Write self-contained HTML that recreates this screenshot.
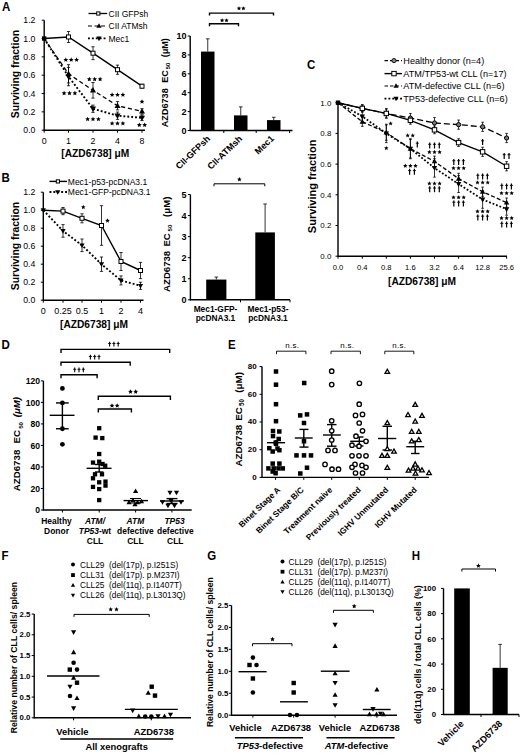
<!DOCTYPE html><html><head><meta charset="utf-8"><style>html,body{margin:0;padding:0;background:#fff;}svg{display:block;}text{font-family:"Liberation Sans",sans-serif;}</style></head><body>
<svg width="520" height="755" viewBox="0 0 520 755" font-family="Liberation Sans, sans-serif">
<rect width="520" height="755" fill="#fff"/>
<text transform="translate(2 10.8) scale(0.87 1)" font-size="13.2" font-weight="bold">A</text>
<line x1="44.2" y1="20.2" x2="44.2" y2="130.7" stroke="#000" stroke-width="1.4"/>
<line x1="43.7" y1="130.2" x2="145" y2="130.2" stroke="#000" stroke-width="1.4"/>
<line x1="41.7" y1="130.2" x2="44.2" y2="130.2" stroke="#000" stroke-width="1"/>
<text x="35.4" y="133.3" font-size="8.7" font-weight="normal" text-anchor="end" fill="#000">0.0</text>
<line x1="41.7" y1="111.87" x2="44.2" y2="111.87" stroke="#000" stroke-width="1"/>
<text x="35.4" y="114.97" font-size="8.7" font-weight="normal" text-anchor="end" fill="#000">0.2</text>
<line x1="41.7" y1="93.53" x2="44.2" y2="93.53" stroke="#000" stroke-width="1"/>
<text x="35.4" y="96.63" font-size="8.7" font-weight="normal" text-anchor="end" fill="#000">0.4</text>
<line x1="41.7" y1="75.2" x2="44.2" y2="75.2" stroke="#000" stroke-width="1"/>
<text x="35.4" y="78.3" font-size="8.7" font-weight="normal" text-anchor="end" fill="#000">0.6</text>
<line x1="41.7" y1="56.86" x2="44.2" y2="56.86" stroke="#000" stroke-width="1"/>
<text x="35.4" y="59.96" font-size="8.7" font-weight="normal" text-anchor="end" fill="#000">0.8</text>
<line x1="41.7" y1="38.53" x2="44.2" y2="38.53" stroke="#000" stroke-width="1"/>
<text x="35.4" y="41.63" font-size="8.7" font-weight="normal" text-anchor="end" fill="#000">1.0</text>
<line x1="41.7" y1="20.2" x2="44.2" y2="20.2" stroke="#000" stroke-width="1"/>
<text x="35.4" y="23.3" font-size="8.7" font-weight="normal" text-anchor="end" fill="#000">1.2</text>
<line x1="44.2" y1="130.2" x2="44.2" y2="132.7" stroke="#000" stroke-width="1"/>
<text x="44.2" y="143.9" font-size="8.8" font-weight="normal" text-anchor="middle" fill="#000">0</text>
<line x1="68.5" y1="130.2" x2="68.5" y2="132.7" stroke="#000" stroke-width="1"/>
<text x="68.5" y="143.9" font-size="8.8" font-weight="normal" text-anchor="middle" fill="#000">1</text>
<line x1="93" y1="130.2" x2="93" y2="132.7" stroke="#000" stroke-width="1"/>
<text x="93" y="143.9" font-size="8.8" font-weight="normal" text-anchor="middle" fill="#000">2</text>
<line x1="117.5" y1="130.2" x2="117.5" y2="132.7" stroke="#000" stroke-width="1"/>
<text x="117.5" y="143.9" font-size="8.8" font-weight="normal" text-anchor="middle" fill="#000">4</text>
<line x1="142" y1="130.2" x2="142" y2="132.7" stroke="#000" stroke-width="1"/>
<text x="142" y="143.9" font-size="8.8" font-weight="normal" text-anchor="middle" fill="#000">8</text>
<text x="95.3" y="157.3" font-size="10.2" font-weight="bold" text-anchor="middle" fill="#000">[AZD6738] &#956;M</text>
<text x="19" y="74" font-size="10.4" font-weight="bold" text-anchor="middle" transform="rotate(-90 19 74)" fill="#000">Surviving fraction</text>
<polyline points="44.2,38.53 68.5,36.97 93,53.2 117.5,69.7 142,86.2" fill="none" stroke="#000" stroke-width="1.4"/>
<polyline points="44.2,38.53 68.5,73.82 93,90.32 117.5,105.72 142,111.41" fill="none" stroke="#000" stroke-width="1.3" stroke-dasharray="4.2,2.8"/>
<polyline points="44.2,38.53 68.5,76.57 93,108.75 117.5,115.72 142,117.82" fill="none" stroke="#000" stroke-width="1.9" stroke-dasharray="1.9,2"/>
<line x1="68.5" y1="31.47" x2="68.5" y2="42.47" stroke="#000" stroke-width="0.8"/>
<line x1="66.9" y1="31.47" x2="70.1" y2="31.47" stroke="#000" stroke-width="0.8"/>
<line x1="66.9" y1="42.47" x2="70.1" y2="42.47" stroke="#000" stroke-width="0.8"/>
<line x1="93" y1="46.78" x2="93" y2="59.61" stroke="#000" stroke-width="0.8"/>
<line x1="91.4" y1="46.78" x2="94.6" y2="46.78" stroke="#000" stroke-width="0.8"/>
<line x1="91.4" y1="59.61" x2="94.6" y2="59.61" stroke="#000" stroke-width="0.8"/>
<line x1="117.5" y1="65.11" x2="117.5" y2="74.28" stroke="#000" stroke-width="0.8"/>
<line x1="115.9" y1="65.11" x2="119.1" y2="65.11" stroke="#000" stroke-width="0.8"/>
<line x1="115.9" y1="74.28" x2="119.1" y2="74.28" stroke="#000" stroke-width="0.8"/>
<line x1="142" y1="84.36" x2="142" y2="88.03" stroke="#000" stroke-width="0.8"/>
<line x1="140.4" y1="84.36" x2="143.6" y2="84.36" stroke="#000" stroke-width="0.8"/>
<line x1="140.4" y1="88.03" x2="143.6" y2="88.03" stroke="#000" stroke-width="0.8"/>
<line x1="68.5" y1="64.66" x2="68.5" y2="82.99" stroke="#000" stroke-width="0.8"/>
<line x1="66.9" y1="64.66" x2="70.1" y2="64.66" stroke="#000" stroke-width="0.8"/>
<line x1="66.9" y1="82.99" x2="70.1" y2="82.99" stroke="#000" stroke-width="0.8"/>
<line x1="93" y1="82.53" x2="93" y2="98.12" stroke="#000" stroke-width="0.8"/>
<line x1="91.4" y1="82.53" x2="94.6" y2="82.53" stroke="#000" stroke-width="0.8"/>
<line x1="91.4" y1="98.12" x2="94.6" y2="98.12" stroke="#000" stroke-width="0.8"/>
<line x1="117.5" y1="101.6" x2="117.5" y2="109.85" stroke="#000" stroke-width="0.8"/>
<line x1="115.9" y1="101.6" x2="119.1" y2="101.6" stroke="#000" stroke-width="0.8"/>
<line x1="115.9" y1="109.85" x2="119.1" y2="109.85" stroke="#000" stroke-width="0.8"/>
<line x1="142" y1="108.66" x2="142" y2="114.16" stroke="#000" stroke-width="0.8"/>
<line x1="140.4" y1="108.66" x2="143.6" y2="108.66" stroke="#000" stroke-width="0.8"/>
<line x1="140.4" y1="114.16" x2="143.6" y2="114.16" stroke="#000" stroke-width="0.8"/>
<line x1="68.5" y1="67.41" x2="68.5" y2="85.74" stroke="#000" stroke-width="0.8"/>
<line x1="66.9" y1="67.41" x2="70.1" y2="67.41" stroke="#000" stroke-width="0.8"/>
<line x1="66.9" y1="85.74" x2="70.1" y2="85.74" stroke="#000" stroke-width="0.8"/>
<line x1="93" y1="105.08" x2="93" y2="112.42" stroke="#000" stroke-width="0.8"/>
<line x1="91.4" y1="105.08" x2="94.6" y2="105.08" stroke="#000" stroke-width="0.8"/>
<line x1="91.4" y1="112.42" x2="94.6" y2="112.42" stroke="#000" stroke-width="0.8"/>
<line x1="117.5" y1="112.05" x2="117.5" y2="119.38" stroke="#000" stroke-width="0.8"/>
<line x1="115.9" y1="112.05" x2="119.1" y2="112.05" stroke="#000" stroke-width="0.8"/>
<line x1="115.9" y1="119.38" x2="119.1" y2="119.38" stroke="#000" stroke-width="0.8"/>
<line x1="142" y1="115.07" x2="142" y2="120.57" stroke="#000" stroke-width="0.8"/>
<line x1="140.4" y1="115.07" x2="143.6" y2="115.07" stroke="#000" stroke-width="0.8"/>
<line x1="140.4" y1="120.57" x2="143.6" y2="120.57" stroke="#000" stroke-width="0.8"/>
<rect x="66.5" y="34.97" width="4" height="4" fill="#fff" stroke="#000" stroke-width="1"/>
<rect x="91" y="51.2" width="4" height="4" fill="#fff" stroke="#000" stroke-width="1"/>
<rect x="115.5" y="67.7" width="4" height="4" fill="#fff" stroke="#000" stroke-width="1"/>
<rect x="140" y="84.2" width="4" height="4" fill="#fff" stroke="#000" stroke-width="1"/>
<polygon points="68.5,70.58 65.5,75.98 71.5,75.98" fill="#000"/>
<polygon points="93,87.08 90,92.48 96,92.48" fill="#000"/>
<polygon points="117.5,102.48 114.5,107.88 120.5,107.88" fill="#000"/>
<polygon points="142,108.17 139,113.57 145,113.57" fill="#000"/>
<polygon points="68.5,79.81 65.5,74.41 71.5,74.41" fill="#000"/>
<polygon points="93,111.99 90,106.59 96,106.59" fill="#000"/>
<polygon points="117.5,118.96 114.5,113.56 120.5,113.56" fill="#000"/>
<polygon points="142,121.06 139,115.66 145,115.66" fill="#000"/>
<rect x="42" y="36.33" width="4.4" height="4.4" fill="#000"/>
<polygon points="65.8,57.35 66.49,58.9 68.18,59.08 66.92,60.21 67.27,61.87 65.8,61.02 64.33,61.87 64.68,60.21 63.42,59.08 65.11,58.9" fill="#000"/>
<polygon points="71.2,57.35 71.89,58.9 73.58,59.08 72.32,60.21 72.67,61.87 71.2,61.02 69.73,61.87 70.08,60.21 68.82,59.08 70.51,58.9" fill="#000"/>
<polygon points="76.6,57.35 77.29,58.9 78.98,59.08 77.72,60.21 78.07,61.87 76.6,61.02 75.13,61.87 75.48,60.21 74.22,59.08 75.91,58.9" fill="#000"/>
<polygon points="64.1,90.75 64.79,92.3 66.48,92.48 65.22,93.61 65.57,95.27 64.1,94.42 62.63,95.27 62.98,93.61 61.72,92.48 63.41,92.3" fill="#000"/>
<polygon points="69.5,90.75 70.19,92.3 71.88,92.48 70.62,93.61 70.97,95.27 69.5,94.42 68.03,95.27 68.38,93.61 67.12,92.48 68.81,92.3" fill="#000"/>
<polygon points="74.9,90.75 75.59,92.3 77.28,92.48 76.02,93.61 76.37,95.27 74.9,94.42 73.43,95.27 73.78,93.61 72.52,92.48 74.21,92.3" fill="#000"/>
<polygon points="89.3,76.75 89.99,78.3 91.68,78.48 90.42,79.61 90.77,81.27 89.3,80.42 87.83,81.27 88.18,79.61 86.92,78.48 88.61,78.3" fill="#000"/>
<polygon points="94.7,76.75 95.39,78.3 97.08,78.48 95.82,79.61 96.17,81.27 94.7,80.42 93.23,81.27 93.58,79.61 92.32,78.48 94.01,78.3" fill="#000"/>
<polygon points="100.1,76.75 100.79,78.3 102.48,78.48 101.22,79.61 101.57,81.27 100.1,80.42 98.63,81.27 98.98,79.61 97.72,78.48 99.41,78.3" fill="#000"/>
<polygon points="87.6,116.65 88.29,118.2 89.98,118.38 88.72,119.51 89.07,121.17 87.6,120.33 86.13,121.17 86.48,119.51 85.22,118.38 86.91,118.2" fill="#000"/>
<polygon points="93,116.65 93.69,118.2 95.38,118.38 94.12,119.51 94.47,121.17 93,120.33 91.53,121.17 91.88,119.51 90.62,118.38 92.31,118.2" fill="#000"/>
<polygon points="98.4,116.65 99.09,118.2 100.78,118.38 99.52,119.51 99.87,121.17 98.4,120.33 96.93,121.17 97.28,119.51 96.02,118.38 97.71,118.2" fill="#000"/>
<polygon points="112.1,92.35 112.79,93.9 114.48,94.08 113.22,95.21 113.57,96.87 112.1,96.02 110.63,96.87 110.98,95.21 109.72,94.08 111.41,93.9" fill="#000"/>
<polygon points="117.5,92.35 118.19,93.9 119.88,94.08 118.62,95.21 118.97,96.87 117.5,96.02 116.03,96.87 116.38,95.21 115.12,94.08 116.81,93.9" fill="#000"/>
<polygon points="122.9,92.35 123.59,93.9 125.28,94.08 124.02,95.21 124.37,96.87 122.9,96.02 121.43,96.87 121.78,95.21 120.52,94.08 122.21,93.9" fill="#000"/>
<polygon points="112.1,120.95 112.79,122.5 114.48,122.68 113.22,123.81 113.57,125.47 112.1,124.62 110.63,125.47 110.98,123.81 109.72,122.68 111.41,122.5" fill="#000"/>
<polygon points="117.5,120.95 118.19,122.5 119.88,122.68 118.62,123.81 118.97,125.47 117.5,124.62 116.03,125.47 116.38,123.81 115.12,122.68 116.81,122.5" fill="#000"/>
<polygon points="122.9,120.95 123.59,122.5 125.28,122.68 124.02,123.81 124.37,125.47 122.9,124.62 121.43,125.47 121.78,123.81 120.52,122.68 122.21,122.5" fill="#000"/>
<polygon points="142,99.15 142.69,100.7 144.38,100.88 143.12,102.01 143.47,103.67 142,102.83 140.53,103.67 140.88,102.01 139.62,100.88 141.31,100.7" fill="#000"/>
<polygon points="139.3,122.55 139.99,124.1 141.68,124.28 140.42,125.41 140.77,127.07 139.3,126.22 137.83,127.07 138.18,125.41 136.92,124.28 138.61,124.1" fill="#000"/>
<polygon points="144.7,122.55 145.39,124.1 147.08,124.28 145.82,125.41 146.17,127.07 144.7,126.22 143.23,127.07 143.58,125.41 142.32,124.28 144.01,124.1" fill="#000"/>
<line x1="88.5" y1="13.5" x2="107.2" y2="13.5" stroke="#000" stroke-width="1.3"/>
<rect x="96.7" y="11.9" width="3.2" height="3.2" fill="#fff" stroke="#000" stroke-width="1"/>
<line x1="88" y1="26" x2="107" y2="26" stroke="#000" stroke-width="1.2" stroke-dasharray="4,2.5"/>
<polygon points="99,23.19 96.4,27.87 101.6,27.87" fill="#000"/>
<line x1="88" y1="38.4" x2="107" y2="38.4" stroke="#000" stroke-width="1.9" stroke-dasharray="1.9,2"/>
<polygon points="99,41.21 96.4,36.53 101.6,36.53" fill="#000"/>
<text x="108.5" y="16.6" font-size="8.5" font-weight="normal" text-anchor="start" fill="#000">CII GFPsh</text>
<text x="108.5" y="29.1" font-size="8.5" font-weight="normal" text-anchor="start" fill="#000">CII ATMsh</text>
<text x="108.5" y="41.5" font-size="8.5" font-weight="normal" text-anchor="start" fill="#000">Mec1</text>
<line x1="190.2" y1="36" x2="190.2" y2="131" stroke="#000" stroke-width="1.4"/>
<line x1="189.7" y1="130.5" x2="292.5" y2="130.5" stroke="#000" stroke-width="1.4"/>
<line x1="187.7" y1="130.5" x2="190.2" y2="130.5" stroke="#000" stroke-width="1"/>
<text x="186.5" y="133.7" font-size="9" font-weight="bold" text-anchor="end" fill="#000">0</text>
<line x1="187.7" y1="111.6" x2="190.2" y2="111.6" stroke="#000" stroke-width="1"/>
<text x="186.5" y="114.8" font-size="9" font-weight="bold" text-anchor="end" fill="#000">2</text>
<line x1="187.7" y1="92.7" x2="190.2" y2="92.7" stroke="#000" stroke-width="1"/>
<text x="186.5" y="95.9" font-size="9" font-weight="bold" text-anchor="end" fill="#000">4</text>
<line x1="187.7" y1="73.8" x2="190.2" y2="73.8" stroke="#000" stroke-width="1"/>
<text x="186.5" y="77" font-size="9" font-weight="bold" text-anchor="end" fill="#000">6</text>
<line x1="187.7" y1="54.9" x2="190.2" y2="54.9" stroke="#000" stroke-width="1"/>
<text x="186.5" y="58.1" font-size="9" font-weight="bold" text-anchor="end" fill="#000">8</text>
<line x1="187.7" y1="36" x2="190.2" y2="36" stroke="#000" stroke-width="1"/>
<text x="186.5" y="39.2" font-size="9" font-weight="bold" text-anchor="end" fill="#000">10</text>
<line x1="223.8" y1="130.5" x2="223.8" y2="133" stroke="#000" stroke-width="1"/>
<line x1="256.2" y1="130.5" x2="256.2" y2="133" stroke="#000" stroke-width="1"/>
<line x1="289.6" y1="130.5" x2="289.6" y2="133" stroke="#000" stroke-width="1"/>
<line x1="207.75" y1="51.59" x2="207.75" y2="38.84" stroke="#000" stroke-width="0.8"/>
<line x1="205.95" y1="38.84" x2="209.55" y2="38.84" stroke="#000" stroke-width="0.8"/>
<rect x="201" y="51.59" width="13.5" height="78.91" fill="#000"/>
<line x1="240.75" y1="115.38" x2="240.75" y2="106.88" stroke="#000" stroke-width="0.8"/>
<line x1="238.95" y1="106.88" x2="242.55" y2="106.88" stroke="#000" stroke-width="0.8"/>
<rect x="234" y="115.38" width="13.5" height="15.12" fill="#000"/>
<line x1="273.75" y1="120.11" x2="273.75" y2="117.27" stroke="#000" stroke-width="0.8"/>
<line x1="271.95" y1="117.27" x2="275.55" y2="117.27" stroke="#000" stroke-width="0.8"/>
<rect x="267" y="120.11" width="13.5" height="10.39" fill="#000"/>
<polyline points="209.5,15.5 209.5,13.1 273.5,13.1 273.5,15.5" fill="none" stroke="#000" stroke-width="1.4"/>
<polygon points="239,6.13 239.64,7.56 241.19,7.72 240.03,8.76 240.35,10.29 239,9.51 237.65,10.29 237.97,8.76 236.81,7.72 238.36,7.56" fill="#000"/>
<polygon points="243.4,6.13 244.04,7.56 245.59,7.72 244.43,8.76 244.75,10.29 243.4,9.51 242.05,10.29 242.37,8.76 241.21,7.72 242.76,7.56" fill="#000"/>
<polyline points="209.5,26.2 209.5,23.8 238.5,23.8 238.5,26.2" fill="none" stroke="#000" stroke-width="1.4"/>
<polygon points="222.1,18.13 222.74,19.56 224.29,19.72 223.13,20.76 223.45,22.29 222.1,21.51 220.75,22.29 221.07,20.76 219.91,19.72 221.46,19.56" fill="#000"/>
<polygon points="226.5,18.13 227.14,19.56 228.69,19.72 227.53,20.76 227.85,22.29 226.5,21.51 225.15,22.29 225.47,20.76 224.31,19.72 225.86,19.56" fill="#000"/>
<text transform="translate(168.2 107.75) rotate(-90)" font-size="9.1" font-weight="bold" text-anchor="middle">AZD6738</text>
<text transform="translate(168.2 76.45) rotate(-90)" font-size="9.1" font-weight="bold" text-anchor="middle">EC</text>
<text transform="translate(170.38 66.1) rotate(-90)" font-size="5.82" font-weight="bold" text-anchor="middle">50</text>
<text transform="translate(168.2 47.75) rotate(-90)" font-size="9.1" font-weight="bold" text-anchor="middle">(&#956;M)</text>
<text x="210.8" y="139.3" font-size="9.1" font-weight="bold" text-anchor="end" transform="rotate(-44 210.8 139.3)" fill="#000">CII-GFPsh</text>
<text x="242.8" y="139.3" font-size="9.1" font-weight="bold" text-anchor="end" transform="rotate(-44 242.8 139.3)" fill="#000">CII-ATMsh</text>
<text x="274.6" y="139.3" font-size="9.1" font-weight="bold" text-anchor="end" transform="rotate(-44 274.6 139.3)" fill="#000">Mec1</text>
<text transform="translate(1.6 182.4) scale(0.87 1)" font-size="13.2" font-weight="bold">B</text>
<line x1="43.3" y1="192.2" x2="43.3" y2="300.7" stroke="#000" stroke-width="1.4"/>
<line x1="42.8" y1="300.2" x2="143.5" y2="300.2" stroke="#000" stroke-width="1.4"/>
<line x1="40.8" y1="300.2" x2="43.3" y2="300.2" stroke="#000" stroke-width="1"/>
<text x="35.3" y="303.3" font-size="8.7" font-weight="normal" text-anchor="end" fill="#000">0.0</text>
<line x1="40.8" y1="282.2" x2="43.3" y2="282.2" stroke="#000" stroke-width="1"/>
<text x="35.3" y="285.3" font-size="8.7" font-weight="normal" text-anchor="end" fill="#000">0.2</text>
<line x1="40.8" y1="264.2" x2="43.3" y2="264.2" stroke="#000" stroke-width="1"/>
<text x="35.3" y="267.3" font-size="8.7" font-weight="normal" text-anchor="end" fill="#000">0.4</text>
<line x1="40.8" y1="246.2" x2="43.3" y2="246.2" stroke="#000" stroke-width="1"/>
<text x="35.3" y="249.3" font-size="8.7" font-weight="normal" text-anchor="end" fill="#000">0.6</text>
<line x1="40.8" y1="228.2" x2="43.3" y2="228.2" stroke="#000" stroke-width="1"/>
<text x="35.3" y="231.3" font-size="8.7" font-weight="normal" text-anchor="end" fill="#000">0.8</text>
<line x1="40.8" y1="210.2" x2="43.3" y2="210.2" stroke="#000" stroke-width="1"/>
<text x="35.3" y="213.3" font-size="8.7" font-weight="normal" text-anchor="end" fill="#000">1.0</text>
<line x1="40.8" y1="192.2" x2="43.3" y2="192.2" stroke="#000" stroke-width="1"/>
<text x="35.3" y="195.3" font-size="8.7" font-weight="normal" text-anchor="end" fill="#000">1.2</text>
<line x1="43.3" y1="300.2" x2="43.3" y2="302.7" stroke="#000" stroke-width="1"/>
<text x="43.3" y="313.5" font-size="9" font-weight="normal" text-anchor="middle" fill="#000">0</text>
<line x1="63" y1="300.2" x2="63" y2="302.7" stroke="#000" stroke-width="1"/>
<text x="63" y="313.5" font-size="9" font-weight="normal" text-anchor="middle" fill="#000">0.25</text>
<line x1="82" y1="300.2" x2="82" y2="302.7" stroke="#000" stroke-width="1"/>
<text x="82" y="313.5" font-size="9" font-weight="normal" text-anchor="middle" fill="#000">0.5</text>
<line x1="101.5" y1="300.2" x2="101.5" y2="302.7" stroke="#000" stroke-width="1"/>
<text x="101.5" y="313.5" font-size="9" font-weight="normal" text-anchor="middle" fill="#000">1</text>
<line x1="121" y1="300.2" x2="121" y2="302.7" stroke="#000" stroke-width="1"/>
<text x="121" y="313.5" font-size="9" font-weight="normal" text-anchor="middle" fill="#000">2</text>
<line x1="140.5" y1="300.2" x2="140.5" y2="302.7" stroke="#000" stroke-width="1"/>
<text x="140.5" y="313.5" font-size="9" font-weight="normal" text-anchor="middle" fill="#000">4</text>
<text x="94" y="328" font-size="10.2" font-weight="bold" text-anchor="middle" fill="#000">[AZD6738] &#956;M</text>
<text x="19" y="246" font-size="10.4" font-weight="bold" text-anchor="middle" transform="rotate(-90 19 246)" fill="#000">Surviving fraction</text>
<polyline points="43.3,210.2 63,211.1 82,218.3 101.5,225.5 121,261.5 140.5,270.5" fill="none" stroke="#000" stroke-width="1.4"/>
<polyline points="43.3,210.2 63,230.9 82,245.3 101.5,264.2 121,280.4 140.5,285.8" fill="none" stroke="#000" stroke-width="1.9" stroke-dasharray="1.9,2"/>
<line x1="63" y1="207.5" x2="63" y2="214.7" stroke="#000" stroke-width="0.8"/>
<line x1="61.4" y1="207.5" x2="64.6" y2="207.5" stroke="#000" stroke-width="0.8"/>
<line x1="61.4" y1="214.7" x2="64.6" y2="214.7" stroke="#000" stroke-width="0.8"/>
<line x1="82" y1="213.8" x2="82" y2="222.8" stroke="#000" stroke-width="0.8"/>
<line x1="80.4" y1="213.8" x2="83.6" y2="213.8" stroke="#000" stroke-width="0.8"/>
<line x1="80.4" y1="222.8" x2="83.6" y2="222.8" stroke="#000" stroke-width="0.8"/>
<line x1="101.5" y1="205.7" x2="101.5" y2="245.3" stroke="#000" stroke-width="0.8"/>
<line x1="99.9" y1="205.7" x2="103.1" y2="205.7" stroke="#000" stroke-width="0.8"/>
<line x1="99.9" y1="245.3" x2="103.1" y2="245.3" stroke="#000" stroke-width="0.8"/>
<line x1="121" y1="252.5" x2="121" y2="270.5" stroke="#000" stroke-width="0.8"/>
<line x1="119.4" y1="252.5" x2="122.6" y2="252.5" stroke="#000" stroke-width="0.8"/>
<line x1="119.4" y1="270.5" x2="122.6" y2="270.5" stroke="#000" stroke-width="0.8"/>
<line x1="140.5" y1="262.4" x2="140.5" y2="278.6" stroke="#000" stroke-width="0.8"/>
<line x1="138.9" y1="262.4" x2="142.1" y2="262.4" stroke="#000" stroke-width="0.8"/>
<line x1="138.9" y1="278.6" x2="142.1" y2="278.6" stroke="#000" stroke-width="0.8"/>
<line x1="63" y1="224.6" x2="63" y2="237.2" stroke="#000" stroke-width="0.8"/>
<line x1="61.4" y1="224.6" x2="64.6" y2="224.6" stroke="#000" stroke-width="0.8"/>
<line x1="61.4" y1="237.2" x2="64.6" y2="237.2" stroke="#000" stroke-width="0.8"/>
<line x1="82" y1="239" x2="82" y2="251.6" stroke="#000" stroke-width="0.8"/>
<line x1="80.4" y1="239" x2="83.6" y2="239" stroke="#000" stroke-width="0.8"/>
<line x1="80.4" y1="251.6" x2="83.6" y2="251.6" stroke="#000" stroke-width="0.8"/>
<line x1="101.5" y1="257" x2="101.5" y2="271.4" stroke="#000" stroke-width="0.8"/>
<line x1="99.9" y1="257" x2="103.1" y2="257" stroke="#000" stroke-width="0.8"/>
<line x1="99.9" y1="271.4" x2="103.1" y2="271.4" stroke="#000" stroke-width="0.8"/>
<line x1="121" y1="275.9" x2="121" y2="284.9" stroke="#000" stroke-width="0.8"/>
<line x1="119.4" y1="275.9" x2="122.6" y2="275.9" stroke="#000" stroke-width="0.8"/>
<line x1="119.4" y1="284.9" x2="122.6" y2="284.9" stroke="#000" stroke-width="0.8"/>
<line x1="140.5" y1="282.2" x2="140.5" y2="289.4" stroke="#000" stroke-width="0.8"/>
<line x1="138.9" y1="282.2" x2="142.1" y2="282.2" stroke="#000" stroke-width="0.8"/>
<line x1="138.9" y1="289.4" x2="142.1" y2="289.4" stroke="#000" stroke-width="0.8"/>
<rect x="61" y="209.1" width="4" height="4" fill="#fff" stroke="#000" stroke-width="1"/>
<rect x="80" y="216.3" width="4" height="4" fill="#fff" stroke="#000" stroke-width="1"/>
<rect x="99.5" y="223.5" width="4" height="4" fill="#fff" stroke="#000" stroke-width="1"/>
<rect x="119" y="259.5" width="4" height="4" fill="#fff" stroke="#000" stroke-width="1"/>
<rect x="138.5" y="268.5" width="4" height="4" fill="#fff" stroke="#000" stroke-width="1"/>
<polygon points="63,233.71 60.4,229.03 65.6,229.03" fill="#000"/>
<polygon points="82,248.11 79.4,243.43 84.6,243.43" fill="#000"/>
<polygon points="101.5,267.01 98.9,262.33 104.1,262.33" fill="#000"/>
<polygon points="121,283.21 118.4,278.53 123.6,278.53" fill="#000"/>
<polygon points="140.5,288.61 137.9,283.93 143.1,283.93" fill="#000"/>
<polygon points="43.3,213.01 40.7,208.33 45.9,208.33" fill="#000"/>
<polygon points="83.3,204.84 83.96,206.33 85.58,206.5 84.37,207.59 84.71,209.18 83.3,208.37 81.89,209.18 82.23,207.59 81.02,206.5 82.64,206.33" fill="#000"/>
<polygon points="107.5,218.34 108.16,219.83 109.78,220 108.57,221.09 108.91,222.68 107.5,221.87 106.09,222.68 106.43,221.09 105.22,220 106.84,219.83" fill="#000"/>
<line x1="49.5" y1="181.4" x2="67" y2="181.4" stroke="#000" stroke-width="1.4"/>
<rect x="56.3" y="179.8" width="3.2" height="3.2" fill="#fff" stroke="#000" stroke-width="1"/>
<line x1="49.5" y1="192" x2="67" y2="192" stroke="#000" stroke-width="1.9" stroke-dasharray="1.9,2"/>
<polygon points="57.7,194.81 55.1,190.13 60.3,190.13" fill="#000"/>
<text x="67.8" y="184.5" font-size="8.5" font-weight="normal" text-anchor="start" fill="#000">Mec1-p53-pcDNA3.1</text>
<text x="67.8" y="195.1" font-size="8.5" font-weight="normal" text-anchor="start" fill="#000">Mec1-GFP-pcDNA3.1</text>
<line x1="190.4" y1="194.5" x2="190.4" y2="300.3" stroke="#000" stroke-width="1.4"/>
<line x1="189.9" y1="299.8" x2="290" y2="299.8" stroke="#000" stroke-width="1.4"/>
<line x1="187.9" y1="299.8" x2="190.4" y2="299.8" stroke="#000" stroke-width="1"/>
<text x="186.5" y="303" font-size="9" font-weight="bold" text-anchor="end" fill="#000">0</text>
<line x1="187.9" y1="278.74" x2="190.4" y2="278.74" stroke="#000" stroke-width="1"/>
<text x="186.5" y="281.94" font-size="9" font-weight="bold" text-anchor="end" fill="#000">1</text>
<line x1="187.9" y1="257.68" x2="190.4" y2="257.68" stroke="#000" stroke-width="1"/>
<text x="186.5" y="260.88" font-size="9" font-weight="bold" text-anchor="end" fill="#000">2</text>
<line x1="187.9" y1="236.62" x2="190.4" y2="236.62" stroke="#000" stroke-width="1"/>
<text x="186.5" y="239.82" font-size="9" font-weight="bold" text-anchor="end" fill="#000">3</text>
<line x1="187.9" y1="215.56" x2="190.4" y2="215.56" stroke="#000" stroke-width="1"/>
<text x="186.5" y="218.76" font-size="9" font-weight="bold" text-anchor="end" fill="#000">4</text>
<line x1="187.9" y1="194.5" x2="190.4" y2="194.5" stroke="#000" stroke-width="1"/>
<text x="186.5" y="197.7" font-size="9" font-weight="bold" text-anchor="end" fill="#000">5</text>
<line x1="240.5" y1="299.8" x2="240.5" y2="302.3" stroke="#000" stroke-width="1"/>
<line x1="290" y1="299.8" x2="290" y2="302.3" stroke="#000" stroke-width="1"/>
<line x1="216.3" y1="279.58" x2="216.3" y2="277.06" stroke="#000" stroke-width="0.8"/>
<line x1="214.5" y1="277.06" x2="218.1" y2="277.06" stroke="#000" stroke-width="0.8"/>
<rect x="206.2" y="279.58" width="20.2" height="20.22" fill="#000"/>
<line x1="265.1" y1="232.41" x2="265.1" y2="203.98" stroke="#000" stroke-width="0.8"/>
<line x1="263.3" y1="203.98" x2="266.9" y2="203.98" stroke="#000" stroke-width="0.8"/>
<rect x="255.3" y="232.41" width="19.6" height="67.39" fill="#000"/>
<polyline points="214,186.3 214,183.8 264.8,183.8 264.8,186.3" fill="none" stroke="#000" stroke-width="1"/>
<polygon points="239.4,177.04 240.06,178.53 241.68,178.7 240.47,179.79 240.81,181.38 239.4,180.57 237.99,181.38 238.33,179.79 237.12,178.7 238.74,178.53" fill="#000"/>
<text transform="translate(169.6 271.35) rotate(-90)" font-size="9.6" font-weight="bold" text-anchor="middle">AZD6738</text>
<text transform="translate(169.6 239.9) rotate(-90)" font-size="9.6" font-weight="bold" text-anchor="middle">EC</text>
<text transform="translate(171.9 228) rotate(-90)" font-size="6.14" font-weight="bold" text-anchor="middle">50</text>
<text transform="translate(169.6 206.75) rotate(-90)" font-size="9.6" font-weight="bold" text-anchor="middle">(&#956;M)</text>
<text x="215.5" y="311.5" font-size="8.4" font-weight="bold" text-anchor="middle" fill="#000">Mec1-GFP-</text>
<text x="215.5" y="321.3" font-size="8.4" font-weight="bold" text-anchor="middle" fill="#000">pcDNA3.1</text>
<text x="268" y="311.5" font-size="8.4" font-weight="bold" text-anchor="middle" fill="#000">Mec1-p53-</text>
<text x="268" y="321.3" font-size="8.4" font-weight="bold" text-anchor="middle" fill="#000">pcDNA3.1</text>
<text transform="translate(307 68.8) scale(0.87 1)" font-size="13.2" font-weight="bold">C</text>
<line x1="338" y1="102.7" x2="338" y2="256.7" stroke="#000" stroke-width="1.4"/>
<line x1="337.5" y1="256.2" x2="507" y2="256.2" stroke="#000" stroke-width="1.4"/>
<line x1="335.5" y1="256.2" x2="338" y2="256.2" stroke="#000" stroke-width="1"/>
<text x="331.3" y="259" font-size="7.9" font-weight="normal" text-anchor="end" fill="#000">0.0</text>
<line x1="335.5" y1="225.5" x2="338" y2="225.5" stroke="#000" stroke-width="1"/>
<text x="331.3" y="228.3" font-size="7.9" font-weight="normal" text-anchor="end" fill="#000">0.2</text>
<line x1="335.5" y1="194.8" x2="338" y2="194.8" stroke="#000" stroke-width="1"/>
<text x="331.3" y="197.6" font-size="7.9" font-weight="normal" text-anchor="end" fill="#000">0.4</text>
<line x1="335.5" y1="164.1" x2="338" y2="164.1" stroke="#000" stroke-width="1"/>
<text x="331.3" y="166.9" font-size="7.9" font-weight="normal" text-anchor="end" fill="#000">0.6</text>
<line x1="335.5" y1="133.4" x2="338" y2="133.4" stroke="#000" stroke-width="1"/>
<text x="331.3" y="136.2" font-size="7.9" font-weight="normal" text-anchor="end" fill="#000">0.8</text>
<line x1="335.5" y1="102.7" x2="338" y2="102.7" stroke="#000" stroke-width="1"/>
<text x="331.3" y="105.5" font-size="7.9" font-weight="normal" text-anchor="end" fill="#000">1.0</text>
<line x1="338" y1="256.2" x2="338" y2="258.7" stroke="#000" stroke-width="1"/>
<text x="338" y="269.6" font-size="7.6" font-weight="normal" text-anchor="middle" fill="#000">0.0</text>
<line x1="362.3" y1="256.2" x2="362.3" y2="258.7" stroke="#000" stroke-width="1"/>
<text x="362.3" y="269.6" font-size="7.6" font-weight="normal" text-anchor="middle" fill="#000">0.4</text>
<line x1="386.3" y1="256.2" x2="386.3" y2="258.7" stroke="#000" stroke-width="1"/>
<text x="386.3" y="269.6" font-size="7.6" font-weight="normal" text-anchor="middle" fill="#000">0.8</text>
<line x1="410.4" y1="256.2" x2="410.4" y2="258.7" stroke="#000" stroke-width="1"/>
<text x="410.4" y="269.6" font-size="7.6" font-weight="normal" text-anchor="middle" fill="#000">1.6</text>
<line x1="434.5" y1="256.2" x2="434.5" y2="258.7" stroke="#000" stroke-width="1"/>
<text x="434.5" y="269.6" font-size="7.6" font-weight="normal" text-anchor="middle" fill="#000">3.2</text>
<line x1="458.6" y1="256.2" x2="458.6" y2="258.7" stroke="#000" stroke-width="1"/>
<text x="458.6" y="269.6" font-size="7.6" font-weight="normal" text-anchor="middle" fill="#000">6.4</text>
<line x1="482.6" y1="256.2" x2="482.6" y2="258.7" stroke="#000" stroke-width="1"/>
<text x="482.6" y="269.6" font-size="7.6" font-weight="normal" text-anchor="middle" fill="#000">12.8</text>
<line x1="506.6" y1="256.2" x2="506.6" y2="258.7" stroke="#000" stroke-width="1"/>
<text x="506.6" y="269.6" font-size="7.6" font-weight="normal" text-anchor="middle" fill="#000">25.6</text>
<text x="422" y="285" font-size="10.2" font-weight="bold" text-anchor="middle" fill="#000">[AZD6738] &#956;M</text>
<text x="316.3" y="186.4" font-size="11" font-weight="bold" text-anchor="middle" transform="rotate(-90 316.3 186.4)" fill="#000">Surviving fraction</text>
<polyline points="338,102.7 362.3,108.38 386.3,113.44 410.4,118.05 434.5,122.96 458.6,124.65 482.6,126.8 506.6,138" fill="none" stroke="#000" stroke-width="1.3" stroke-dasharray="6,3"/>
<polyline points="338,102.7 362.3,108.38 386.3,113.44 410.4,120.35 434.5,129.87 458.6,142.61 482.6,151.82 506.6,166.25" fill="none" stroke="#000" stroke-width="1.4"/>
<polyline points="338,102.7 362.3,121.73 386.3,132.63 410.4,148.75 434.5,161.34 458.6,178.68 482.6,191.73 506.6,202.63" fill="none" stroke="#000" stroke-width="1.3" stroke-dasharray="4,2.2"/>
<polyline points="338,102.7 362.3,116.36 386.3,133.4 410.4,148.75 434.5,167.94 458.6,184.06 482.6,199.56 506.6,209.08" fill="none" stroke="#000" stroke-width="1.8" stroke-dasharray="1.8,1.9"/>
<line x1="362.3" y1="105.31" x2="362.3" y2="111.45" stroke="#000" stroke-width="0.8"/>
<line x1="361" y1="105.31" x2="363.6" y2="105.31" stroke="#000" stroke-width="0.8"/>
<line x1="361" y1="111.45" x2="363.6" y2="111.45" stroke="#000" stroke-width="0.8"/>
<line x1="386.3" y1="108.84" x2="386.3" y2="118.05" stroke="#000" stroke-width="0.8"/>
<line x1="385" y1="108.84" x2="387.6" y2="108.84" stroke="#000" stroke-width="0.8"/>
<line x1="385" y1="118.05" x2="387.6" y2="118.05" stroke="#000" stroke-width="0.8"/>
<line x1="410.4" y1="113.44" x2="410.4" y2="122.66" stroke="#000" stroke-width="0.8"/>
<line x1="409.1" y1="113.44" x2="411.7" y2="113.44" stroke="#000" stroke-width="0.8"/>
<line x1="409.1" y1="122.66" x2="411.7" y2="122.66" stroke="#000" stroke-width="0.8"/>
<line x1="434.5" y1="117.59" x2="434.5" y2="128.33" stroke="#000" stroke-width="0.8"/>
<line x1="433.2" y1="117.59" x2="435.8" y2="117.59" stroke="#000" stroke-width="0.8"/>
<line x1="433.2" y1="128.33" x2="435.8" y2="128.33" stroke="#000" stroke-width="0.8"/>
<line x1="458.6" y1="120.05" x2="458.6" y2="129.26" stroke="#000" stroke-width="0.8"/>
<line x1="457.3" y1="120.05" x2="459.9" y2="120.05" stroke="#000" stroke-width="0.8"/>
<line x1="457.3" y1="129.26" x2="459.9" y2="129.26" stroke="#000" stroke-width="0.8"/>
<line x1="482.6" y1="122.19" x2="482.6" y2="131.4" stroke="#000" stroke-width="0.8"/>
<line x1="481.3" y1="122.19" x2="483.9" y2="122.19" stroke="#000" stroke-width="0.8"/>
<line x1="481.3" y1="131.4" x2="483.9" y2="131.4" stroke="#000" stroke-width="0.8"/>
<line x1="506.6" y1="133.4" x2="506.6" y2="142.61" stroke="#000" stroke-width="0.8"/>
<line x1="505.3" y1="133.4" x2="507.9" y2="133.4" stroke="#000" stroke-width="0.8"/>
<line x1="505.3" y1="142.61" x2="507.9" y2="142.61" stroke="#000" stroke-width="0.8"/>
<line x1="362.3" y1="104.54" x2="362.3" y2="112.22" stroke="#000" stroke-width="0.8"/>
<line x1="361" y1="104.54" x2="363.6" y2="104.54" stroke="#000" stroke-width="0.8"/>
<line x1="361" y1="112.22" x2="363.6" y2="112.22" stroke="#000" stroke-width="0.8"/>
<line x1="386.3" y1="108.84" x2="386.3" y2="118.05" stroke="#000" stroke-width="0.8"/>
<line x1="385" y1="108.84" x2="387.6" y2="108.84" stroke="#000" stroke-width="0.8"/>
<line x1="385" y1="118.05" x2="387.6" y2="118.05" stroke="#000" stroke-width="0.8"/>
<line x1="410.4" y1="116.51" x2="410.4" y2="124.19" stroke="#000" stroke-width="0.8"/>
<line x1="409.1" y1="116.51" x2="411.7" y2="116.51" stroke="#000" stroke-width="0.8"/>
<line x1="409.1" y1="124.19" x2="411.7" y2="124.19" stroke="#000" stroke-width="0.8"/>
<line x1="434.5" y1="126.03" x2="434.5" y2="133.71" stroke="#000" stroke-width="0.8"/>
<line x1="433.2" y1="126.03" x2="435.8" y2="126.03" stroke="#000" stroke-width="0.8"/>
<line x1="433.2" y1="133.71" x2="435.8" y2="133.71" stroke="#000" stroke-width="0.8"/>
<line x1="458.6" y1="138.77" x2="458.6" y2="146.45" stroke="#000" stroke-width="0.8"/>
<line x1="457.3" y1="138.77" x2="459.9" y2="138.77" stroke="#000" stroke-width="0.8"/>
<line x1="457.3" y1="146.45" x2="459.9" y2="146.45" stroke="#000" stroke-width="0.8"/>
<line x1="482.6" y1="147.21" x2="482.6" y2="156.42" stroke="#000" stroke-width="0.8"/>
<line x1="481.3" y1="147.21" x2="483.9" y2="147.21" stroke="#000" stroke-width="0.8"/>
<line x1="481.3" y1="156.42" x2="483.9" y2="156.42" stroke="#000" stroke-width="0.8"/>
<line x1="506.6" y1="161.64" x2="506.6" y2="170.85" stroke="#000" stroke-width="0.8"/>
<line x1="505.3" y1="161.64" x2="507.9" y2="161.64" stroke="#000" stroke-width="0.8"/>
<line x1="505.3" y1="170.85" x2="507.9" y2="170.85" stroke="#000" stroke-width="0.8"/>
<line x1="362.3" y1="117.13" x2="362.3" y2="126.34" stroke="#000" stroke-width="0.8"/>
<line x1="361" y1="117.13" x2="363.6" y2="117.13" stroke="#000" stroke-width="0.8"/>
<line x1="361" y1="126.34" x2="363.6" y2="126.34" stroke="#000" stroke-width="0.8"/>
<line x1="386.3" y1="124.96" x2="386.3" y2="140.31" stroke="#000" stroke-width="0.8"/>
<line x1="385" y1="124.96" x2="387.6" y2="124.96" stroke="#000" stroke-width="0.8"/>
<line x1="385" y1="140.31" x2="387.6" y2="140.31" stroke="#000" stroke-width="0.8"/>
<line x1="410.4" y1="139.54" x2="410.4" y2="157.96" stroke="#000" stroke-width="0.8"/>
<line x1="409.1" y1="139.54" x2="411.7" y2="139.54" stroke="#000" stroke-width="0.8"/>
<line x1="409.1" y1="157.96" x2="411.7" y2="157.96" stroke="#000" stroke-width="0.8"/>
<line x1="434.5" y1="156.12" x2="434.5" y2="166.56" stroke="#000" stroke-width="0.8"/>
<line x1="433.2" y1="156.12" x2="435.8" y2="156.12" stroke="#000" stroke-width="0.8"/>
<line x1="433.2" y1="166.56" x2="435.8" y2="166.56" stroke="#000" stroke-width="0.8"/>
<line x1="458.6" y1="173.31" x2="458.6" y2="184.06" stroke="#000" stroke-width="0.8"/>
<line x1="457.3" y1="173.31" x2="459.9" y2="173.31" stroke="#000" stroke-width="0.8"/>
<line x1="457.3" y1="184.06" x2="459.9" y2="184.06" stroke="#000" stroke-width="0.8"/>
<line x1="482.6" y1="187.12" x2="482.6" y2="196.33" stroke="#000" stroke-width="0.8"/>
<line x1="481.3" y1="187.12" x2="483.9" y2="187.12" stroke="#000" stroke-width="0.8"/>
<line x1="481.3" y1="196.33" x2="483.9" y2="196.33" stroke="#000" stroke-width="0.8"/>
<line x1="506.6" y1="198.02" x2="506.6" y2="207.23" stroke="#000" stroke-width="0.8"/>
<line x1="505.3" y1="198.02" x2="507.9" y2="198.02" stroke="#000" stroke-width="0.8"/>
<line x1="505.3" y1="207.23" x2="507.9" y2="207.23" stroke="#000" stroke-width="0.8"/>
<line x1="362.3" y1="110.22" x2="362.3" y2="122.5" stroke="#000" stroke-width="0.8"/>
<line x1="361" y1="110.22" x2="363.6" y2="110.22" stroke="#000" stroke-width="0.8"/>
<line x1="361" y1="122.5" x2="363.6" y2="122.5" stroke="#000" stroke-width="0.8"/>
<line x1="386.3" y1="124.19" x2="386.3" y2="142.61" stroke="#000" stroke-width="0.8"/>
<line x1="385" y1="124.19" x2="387.6" y2="124.19" stroke="#000" stroke-width="0.8"/>
<line x1="385" y1="142.61" x2="387.6" y2="142.61" stroke="#000" stroke-width="0.8"/>
<line x1="410.4" y1="138.77" x2="410.4" y2="158.73" stroke="#000" stroke-width="0.8"/>
<line x1="409.1" y1="138.77" x2="411.7" y2="138.77" stroke="#000" stroke-width="0.8"/>
<line x1="409.1" y1="158.73" x2="411.7" y2="158.73" stroke="#000" stroke-width="0.8"/>
<line x1="434.5" y1="158.73" x2="434.5" y2="177.15" stroke="#000" stroke-width="0.8"/>
<line x1="433.2" y1="158.73" x2="435.8" y2="158.73" stroke="#000" stroke-width="0.8"/>
<line x1="433.2" y1="177.15" x2="435.8" y2="177.15" stroke="#000" stroke-width="0.8"/>
<line x1="458.6" y1="175.61" x2="458.6" y2="192.5" stroke="#000" stroke-width="0.8"/>
<line x1="457.3" y1="175.61" x2="459.9" y2="175.61" stroke="#000" stroke-width="0.8"/>
<line x1="457.3" y1="192.5" x2="459.9" y2="192.5" stroke="#000" stroke-width="0.8"/>
<line x1="482.6" y1="190.81" x2="482.6" y2="208.31" stroke="#000" stroke-width="0.8"/>
<line x1="481.3" y1="190.81" x2="483.9" y2="190.81" stroke="#000" stroke-width="0.8"/>
<line x1="481.3" y1="208.31" x2="483.9" y2="208.31" stroke="#000" stroke-width="0.8"/>
<line x1="506.6" y1="202.94" x2="506.6" y2="215.22" stroke="#000" stroke-width="0.8"/>
<line x1="505.3" y1="202.94" x2="507.9" y2="202.94" stroke="#000" stroke-width="0.8"/>
<line x1="505.3" y1="215.22" x2="507.9" y2="215.22" stroke="#000" stroke-width="0.8"/>
<circle cx="362.3" cy="108.38" r="2.1" fill="#7a7a7a" stroke="#000" stroke-width="1"/>
<circle cx="386.3" cy="113.44" r="2.1" fill="#7a7a7a" stroke="#000" stroke-width="1"/>
<circle cx="410.4" cy="118.05" r="2.1" fill="#7a7a7a" stroke="#000" stroke-width="1"/>
<circle cx="434.5" cy="122.96" r="2.1" fill="#7a7a7a" stroke="#000" stroke-width="1"/>
<circle cx="458.6" cy="124.65" r="2.1" fill="#7a7a7a" stroke="#000" stroke-width="1"/>
<circle cx="482.6" cy="126.8" r="2.1" fill="#7a7a7a" stroke="#000" stroke-width="1"/>
<circle cx="506.6" cy="138" r="2.1" fill="#7a7a7a" stroke="#000" stroke-width="1"/>
<rect x="360.1" y="106.18" width="4.4" height="4.4" fill="#fff" stroke="#000" stroke-width="1"/>
<rect x="384.1" y="111.24" width="4.4" height="4.4" fill="#fff" stroke="#000" stroke-width="1"/>
<rect x="408.2" y="118.15" width="4.4" height="4.4" fill="#fff" stroke="#000" stroke-width="1"/>
<rect x="432.3" y="127.67" width="4.4" height="4.4" fill="#fff" stroke="#000" stroke-width="1"/>
<rect x="456.4" y="140.41" width="4.4" height="4.4" fill="#fff" stroke="#000" stroke-width="1"/>
<rect x="480.4" y="149.62" width="4.4" height="4.4" fill="#fff" stroke="#000" stroke-width="1"/>
<rect x="504.4" y="164.05" width="4.4" height="4.4" fill="#fff" stroke="#000" stroke-width="1"/>
<polygon points="362.3,118.82 359.6,123.68 365,123.68" fill="#000"/>
<polygon points="386.3,129.72 383.6,134.58 389,134.58" fill="#000"/>
<polygon points="410.4,145.83 407.7,150.69 413.1,150.69" fill="#000"/>
<polygon points="434.5,158.42 431.8,163.28 437.2,163.28" fill="#000"/>
<polygon points="458.6,175.77 455.9,180.63 461.3,180.63" fill="#000"/>
<polygon points="482.6,188.81 479.9,193.67 485.3,193.67" fill="#000"/>
<polygon points="506.6,199.71 503.9,204.57 509.3,204.57" fill="#000"/>
<polygon points="362.3,119.28 359.6,114.42 365,114.42" fill="#000"/>
<polygon points="386.3,136.32 383.6,131.46 389,131.46" fill="#000"/>
<polygon points="410.4,151.67 407.7,146.81 413.1,146.81" fill="#000"/>
<polygon points="434.5,170.85 431.8,165.99 437.2,165.99" fill="#000"/>
<polygon points="458.6,186.97 455.9,182.11 461.3,182.11" fill="#000"/>
<polygon points="482.6,202.47 479.9,197.61 485.3,197.61" fill="#000"/>
<polygon points="506.6,211.99 503.9,207.13 509.3,207.13" fill="#000"/>
<rect x="335.8" y="100.5" width="4.4" height="4.4" fill="#000"/>
<polygon points="390.6,121.23 391.24,122.66 392.79,122.82 391.63,123.86 391.95,125.39 390.6,124.61 389.25,125.39 389.57,123.86 388.41,122.82 389.96,122.66" fill="#000"/>
<polygon points="386.3,145.93 386.94,147.36 388.49,147.52 387.33,148.56 387.65,150.09 386.3,149.31 384.95,150.09 385.27,148.56 384.11,147.52 385.66,147.36" fill="#000"/>
<polygon points="407.65,133.23 408.29,134.66 409.84,134.82 408.68,135.86 409,137.39 407.65,136.61 406.3,137.39 406.62,135.86 405.46,134.82 407.01,134.66" fill="#000"/>
<polygon points="412.75,133.23 413.39,134.66 414.94,134.82 413.78,135.86 414.1,137.39 412.75,136.61 411.4,137.39 411.72,135.86 410.56,134.82 412.11,134.66" fill="#000"/>
<path d="M417.3 141.4 L417.3 147.4" stroke="#000" stroke-width="1.2" stroke-linecap="butt"/>
<line x1="415.8" y1="143.2" x2="418.8" y2="143.2" stroke="#000" stroke-width="0.9"/>
<polygon points="405.3,163.53 405.94,164.96 407.49,165.12 406.33,166.16 406.65,167.69 405.3,166.91 403.95,167.69 404.27,166.16 403.11,165.12 404.66,164.96" fill="#000"/>
<polygon points="410.4,163.53 411.04,164.96 412.59,165.12 411.43,166.16 411.75,167.69 410.4,166.91 409.05,167.69 409.37,166.16 408.21,165.12 409.76,164.96" fill="#000"/>
<polygon points="415.5,163.53 416.14,164.96 417.69,165.12 416.53,166.16 416.85,167.69 415.5,166.91 414.15,167.69 414.47,166.16 413.31,165.12 414.86,164.96" fill="#000"/>
<path d="M409.6 168.8 L409.6 174.8" stroke="#000" stroke-width="1.2" stroke-linecap="butt"/>
<line x1="408.1" y1="170.6" x2="411.1" y2="170.6" stroke="#000" stroke-width="0.9"/>
<path d="M414.4 168.8 L414.4 174.8" stroke="#000" stroke-width="1.2" stroke-linecap="butt"/>
<line x1="412.9" y1="170.6" x2="415.9" y2="170.6" stroke="#000" stroke-width="0.9"/>
<path d="M429.7 142.5 L429.7 148.5" stroke="#000" stroke-width="1.2" stroke-linecap="butt"/>
<line x1="428.2" y1="144.3" x2="431.2" y2="144.3" stroke="#000" stroke-width="0.9"/>
<path d="M434.5 142.5 L434.5 148.5" stroke="#000" stroke-width="1.2" stroke-linecap="butt"/>
<line x1="433" y1="144.3" x2="436" y2="144.3" stroke="#000" stroke-width="0.9"/>
<path d="M439.3 142.5 L439.3 148.5" stroke="#000" stroke-width="1.2" stroke-linecap="butt"/>
<line x1="437.8" y1="144.3" x2="440.8" y2="144.3" stroke="#000" stroke-width="0.9"/>
<polygon points="429.4,149.83 430.04,151.26 431.59,151.42 430.43,152.46 430.75,153.99 429.4,153.21 428.05,153.99 428.37,152.46 427.21,151.42 428.76,151.26" fill="#000"/>
<polygon points="434.5,149.83 435.14,151.26 436.69,151.42 435.53,152.46 435.85,153.99 434.5,153.21 433.15,153.99 433.47,152.46 432.31,151.42 433.86,151.26" fill="#000"/>
<polygon points="439.6,149.83 440.24,151.26 441.79,151.42 440.63,152.46 440.95,153.99 439.6,153.21 438.25,153.99 438.57,152.46 437.41,151.42 438.96,151.26" fill="#000"/>
<polygon points="429.4,181.23 430.04,182.66 431.59,182.82 430.43,183.86 430.75,185.39 429.4,184.61 428.05,185.39 428.37,183.86 427.21,182.82 428.76,182.66" fill="#000"/>
<polygon points="434.5,181.23 435.14,182.66 436.69,182.82 435.53,183.86 435.85,185.39 434.5,184.61 433.15,185.39 433.47,183.86 432.31,182.82 433.86,182.66" fill="#000"/>
<polygon points="439.6,181.23 440.24,182.66 441.79,182.82 440.63,183.86 440.95,185.39 439.6,184.61 438.25,185.39 438.57,183.86 437.41,182.82 438.96,182.66" fill="#000"/>
<path d="M429.7 186.2 L429.7 192.2" stroke="#000" stroke-width="1.2" stroke-linecap="butt"/>
<line x1="428.2" y1="188" x2="431.2" y2="188" stroke="#000" stroke-width="0.9"/>
<path d="M434.5 186.2 L434.5 192.2" stroke="#000" stroke-width="1.2" stroke-linecap="butt"/>
<line x1="433" y1="188" x2="436" y2="188" stroke="#000" stroke-width="0.9"/>
<path d="M439.3 186.2 L439.3 192.2" stroke="#000" stroke-width="1.2" stroke-linecap="butt"/>
<line x1="437.8" y1="188" x2="440.8" y2="188" stroke="#000" stroke-width="0.9"/>
<path d="M453.8 158.9 L453.8 164.9" stroke="#000" stroke-width="1.2" stroke-linecap="butt"/>
<line x1="452.3" y1="160.7" x2="455.3" y2="160.7" stroke="#000" stroke-width="0.9"/>
<path d="M458.6 158.9 L458.6 164.9" stroke="#000" stroke-width="1.2" stroke-linecap="butt"/>
<line x1="457.1" y1="160.7" x2="460.1" y2="160.7" stroke="#000" stroke-width="0.9"/>
<path d="M463.4 158.9 L463.4 164.9" stroke="#000" stroke-width="1.2" stroke-linecap="butt"/>
<line x1="461.9" y1="160.7" x2="464.9" y2="160.7" stroke="#000" stroke-width="0.9"/>
<polygon points="453.5,165.93 454.14,167.36 455.69,167.52 454.53,168.56 454.85,170.09 453.5,169.31 452.15,170.09 452.47,168.56 451.31,167.52 452.86,167.36" fill="#000"/>
<polygon points="458.6,165.93 459.24,167.36 460.79,167.52 459.63,168.56 459.95,170.09 458.6,169.31 457.25,170.09 457.57,168.56 456.41,167.52 457.96,167.36" fill="#000"/>
<polygon points="463.7,165.93 464.34,167.36 465.89,167.52 464.73,168.56 465.05,170.09 463.7,169.31 462.35,170.09 462.67,168.56 461.51,167.52 463.06,167.36" fill="#000"/>
<polygon points="453.5,195.13 454.14,196.56 455.69,196.72 454.53,197.76 454.85,199.29 453.5,198.51 452.15,199.29 452.47,197.76 451.31,196.72 452.86,196.56" fill="#000"/>
<polygon points="458.6,195.13 459.24,196.56 460.79,196.72 459.63,197.76 459.95,199.29 458.6,198.51 457.25,199.29 457.57,197.76 456.41,196.72 457.96,196.56" fill="#000"/>
<polygon points="463.7,195.13 464.34,196.56 465.89,196.72 464.73,197.76 465.05,199.29 463.7,198.51 462.35,199.29 462.67,197.76 461.51,196.72 463.06,196.56" fill="#000"/>
<path d="M453.8 200.4 L453.8 206.4" stroke="#000" stroke-width="1.2" stroke-linecap="butt"/>
<line x1="452.3" y1="202.2" x2="455.3" y2="202.2" stroke="#000" stroke-width="0.9"/>
<path d="M458.6 200.4 L458.6 206.4" stroke="#000" stroke-width="1.2" stroke-linecap="butt"/>
<line x1="457.1" y1="202.2" x2="460.1" y2="202.2" stroke="#000" stroke-width="0.9"/>
<path d="M463.4 200.4 L463.4 206.4" stroke="#000" stroke-width="1.2" stroke-linecap="butt"/>
<line x1="461.9" y1="202.2" x2="464.9" y2="202.2" stroke="#000" stroke-width="0.9"/>
<path d="M482.6 139 L482.6 145" stroke="#000" stroke-width="1.2" stroke-linecap="butt"/>
<line x1="481.1" y1="140.8" x2="484.1" y2="140.8" stroke="#000" stroke-width="0.9"/>
<path d="M477.8 173.5 L477.8 179.5" stroke="#000" stroke-width="1.2" stroke-linecap="butt"/>
<line x1="476.3" y1="175.3" x2="479.3" y2="175.3" stroke="#000" stroke-width="0.9"/>
<path d="M482.6 173.5 L482.6 179.5" stroke="#000" stroke-width="1.2" stroke-linecap="butt"/>
<line x1="481.1" y1="175.3" x2="484.1" y2="175.3" stroke="#000" stroke-width="0.9"/>
<path d="M487.4 173.5 L487.4 179.5" stroke="#000" stroke-width="1.2" stroke-linecap="butt"/>
<line x1="485.9" y1="175.3" x2="488.9" y2="175.3" stroke="#000" stroke-width="0.9"/>
<polygon points="477.5,180.23 478.14,181.66 479.69,181.82 478.53,182.86 478.85,184.39 477.5,183.61 476.15,184.39 476.47,182.86 475.31,181.82 476.86,181.66" fill="#000"/>
<polygon points="482.6,180.23 483.24,181.66 484.79,181.82 483.63,182.86 483.95,184.39 482.6,183.61 481.25,184.39 481.57,182.86 480.41,181.82 481.96,181.66" fill="#000"/>
<polygon points="487.7,180.23 488.34,181.66 489.89,181.82 488.73,182.86 489.05,184.39 487.7,183.61 486.35,184.39 486.67,182.86 485.51,181.82 487.06,181.66" fill="#000"/>
<polygon points="477.5,209.13 478.14,210.56 479.69,210.72 478.53,211.76 478.85,213.29 477.5,212.51 476.15,213.29 476.47,211.76 475.31,210.72 476.86,210.56" fill="#000"/>
<polygon points="482.6,209.13 483.24,210.56 484.79,210.72 483.63,211.76 483.95,213.29 482.6,212.51 481.25,213.29 481.57,211.76 480.41,210.72 481.96,210.56" fill="#000"/>
<polygon points="487.7,209.13 488.34,210.56 489.89,210.72 488.73,211.76 489.05,213.29 487.7,212.51 486.35,213.29 486.67,211.76 485.51,210.72 487.06,210.56" fill="#000"/>
<path d="M477.8 214.4 L477.8 220.4" stroke="#000" stroke-width="1.2" stroke-linecap="butt"/>
<line x1="476.3" y1="216.2" x2="479.3" y2="216.2" stroke="#000" stroke-width="0.9"/>
<path d="M482.6 214.4 L482.6 220.4" stroke="#000" stroke-width="1.2" stroke-linecap="butt"/>
<line x1="481.1" y1="216.2" x2="484.1" y2="216.2" stroke="#000" stroke-width="0.9"/>
<path d="M487.4 214.4 L487.4 220.4" stroke="#000" stroke-width="1.2" stroke-linecap="butt"/>
<line x1="485.9" y1="216.2" x2="488.9" y2="216.2" stroke="#000" stroke-width="0.9"/>
<path d="M504.2 152.9 L504.2 158.9" stroke="#000" stroke-width="1.2" stroke-linecap="butt"/>
<line x1="502.7" y1="154.7" x2="505.7" y2="154.7" stroke="#000" stroke-width="0.9"/>
<path d="M509 152.9 L509 158.9" stroke="#000" stroke-width="1.2" stroke-linecap="butt"/>
<line x1="507.5" y1="154.7" x2="510.5" y2="154.7" stroke="#000" stroke-width="0.9"/>
<path d="M501.8 183.6 L501.8 189.6" stroke="#000" stroke-width="1.2" stroke-linecap="butt"/>
<line x1="500.3" y1="185.4" x2="503.3" y2="185.4" stroke="#000" stroke-width="0.9"/>
<path d="M506.6 183.6 L506.6 189.6" stroke="#000" stroke-width="1.2" stroke-linecap="butt"/>
<line x1="505.1" y1="185.4" x2="508.1" y2="185.4" stroke="#000" stroke-width="0.9"/>
<path d="M511.4 183.6 L511.4 189.6" stroke="#000" stroke-width="1.2" stroke-linecap="butt"/>
<line x1="509.9" y1="185.4" x2="512.9" y2="185.4" stroke="#000" stroke-width="0.9"/>
<polygon points="501.5,190.93 502.14,192.36 503.69,192.52 502.53,193.56 502.85,195.09 501.5,194.31 500.15,195.09 500.47,193.56 499.31,192.52 500.86,192.36" fill="#000"/>
<polygon points="506.6,190.93 507.24,192.36 508.79,192.52 507.63,193.56 507.95,195.09 506.6,194.31 505.25,195.09 505.57,193.56 504.41,192.52 505.96,192.36" fill="#000"/>
<polygon points="511.7,190.93 512.34,192.36 513.89,192.52 512.73,193.56 513.05,195.09 511.7,194.31 510.35,195.09 510.67,193.56 509.51,192.52 511.06,192.36" fill="#000"/>
<polygon points="501.5,215.83 502.14,217.26 503.69,217.42 502.53,218.46 502.85,219.99 501.5,219.21 500.15,219.99 500.47,218.46 499.31,217.42 500.86,217.26" fill="#000"/>
<polygon points="506.6,215.83 507.24,217.26 508.79,217.42 507.63,218.46 507.95,219.99 506.6,219.21 505.25,219.99 505.57,218.46 504.41,217.42 505.96,217.26" fill="#000"/>
<polygon points="511.7,215.83 512.34,217.26 513.89,217.42 512.73,218.46 513.05,219.99 511.7,219.21 510.35,219.99 510.67,218.46 509.51,217.42 511.06,217.26" fill="#000"/>
<path d="M501.8 221.6 L501.8 227.6" stroke="#000" stroke-width="1.2" stroke-linecap="butt"/>
<line x1="500.3" y1="223.4" x2="503.3" y2="223.4" stroke="#000" stroke-width="0.9"/>
<path d="M506.6 221.6 L506.6 227.6" stroke="#000" stroke-width="1.2" stroke-linecap="butt"/>
<line x1="505.1" y1="223.4" x2="508.1" y2="223.4" stroke="#000" stroke-width="0.9"/>
<path d="M511.4 221.6 L511.4 227.6" stroke="#000" stroke-width="1.2" stroke-linecap="butt"/>
<line x1="509.9" y1="223.4" x2="512.9" y2="223.4" stroke="#000" stroke-width="0.9"/>
<line x1="384.5" y1="60.6" x2="402" y2="60.6" stroke="#000" stroke-width="1.2" stroke-dasharray="3.5,2"/>
<circle cx="394" cy="60.6" r="2.1" fill="#8a8a8a" stroke="#000" stroke-width="0.9"/>
<line x1="384.5" y1="73.6" x2="402" y2="73.6" stroke="#000" stroke-width="1.4"/>
<rect x="391.8" y="71.4" width="4.4" height="4.4" fill="#fff" stroke="#000" stroke-width="1"/>
<line x1="384.5" y1="86" x2="402" y2="86" stroke="#000" stroke-width="1.2" stroke-dasharray="3.5,2"/>
<polygon points="396,83.3 393.5,87.8 398.5,87.8" fill="#000"/>
<line x1="384.5" y1="98.6" x2="402" y2="98.6" stroke="#000" stroke-width="1.9" stroke-dasharray="1.9,2"/>
<polygon points="396,101.3 393.5,96.8 398.5,96.8" fill="#000"/>
<text x="403.3" y="63.9" font-size="9.15" font-weight="normal" text-anchor="start" fill="#000">Healthy donor (n=4)</text>
<text x="403.3" y="76.9" font-size="9.15" font-weight="normal" text-anchor="start" fill="#000">ATM/TP53-wt CLL (n=17)</text>
<text x="403.3" y="89.3" font-size="9.15" font-weight="normal" text-anchor="start" fill="#000">ATM-defective CLL (n=6)</text>
<text x="403.3" y="101.9" font-size="9.15" font-weight="normal" text-anchor="start" fill="#000">TP53-defective CLL (n=6)</text>
<text transform="translate(1.6 348.5) scale(0.87 1)" font-size="13.2" font-weight="bold">D</text>
<line x1="43.4" y1="380.88" x2="43.4" y2="510.5" stroke="#000" stroke-width="1.4"/>
<line x1="42.9" y1="510" x2="191.7" y2="510" stroke="#000" stroke-width="1.4"/>
<line x1="40.9" y1="510" x2="43.4" y2="510" stroke="#000" stroke-width="1"/>
<text x="40" y="513.2" font-size="8.6" font-weight="bold" text-anchor="end" fill="#000">0</text>
<line x1="40.9" y1="488.48" x2="43.4" y2="488.48" stroke="#000" stroke-width="1"/>
<text x="40" y="491.68" font-size="8.6" font-weight="bold" text-anchor="end" fill="#000">20</text>
<line x1="40.9" y1="466.96" x2="43.4" y2="466.96" stroke="#000" stroke-width="1"/>
<text x="40" y="470.16" font-size="8.6" font-weight="bold" text-anchor="end" fill="#000">40</text>
<line x1="40.9" y1="445.44" x2="43.4" y2="445.44" stroke="#000" stroke-width="1"/>
<text x="40" y="448.64" font-size="8.6" font-weight="bold" text-anchor="end" fill="#000">60</text>
<line x1="40.9" y1="423.92" x2="43.4" y2="423.92" stroke="#000" stroke-width="1"/>
<text x="40" y="427.12" font-size="8.6" font-weight="bold" text-anchor="end" fill="#000">80</text>
<line x1="40.9" y1="402.4" x2="43.4" y2="402.4" stroke="#000" stroke-width="1"/>
<text x="40" y="405.6" font-size="8.6" font-weight="bold" text-anchor="end" fill="#000">100</text>
<line x1="40.9" y1="380.88" x2="43.4" y2="380.88" stroke="#000" stroke-width="1"/>
<text x="40" y="384.08" font-size="8.6" font-weight="bold" text-anchor="end" fill="#000">120</text>
<line x1="62.4" y1="510" x2="62.4" y2="512.5" stroke="#000" stroke-width="1"/>
<line x1="99.2" y1="510" x2="99.2" y2="512.5" stroke="#000" stroke-width="1"/>
<line x1="135.6" y1="510" x2="135.6" y2="512.5" stroke="#000" stroke-width="1"/>
<line x1="171.9" y1="510" x2="171.9" y2="512.5" stroke="#000" stroke-width="1"/>
<polyline points="61,353 61,349.4 169.7,349.4 169.7,353" fill="none" stroke="#000" stroke-width="1.4"/>
<path d="M109.6 341.7 L109.6 346.5" stroke="#000" stroke-width="1.1" stroke-linecap="butt"/>
<line x1="108.1" y1="343.5" x2="111.1" y2="343.5" stroke="#000" stroke-width="0.9"/>
<path d="M113.9 341.7 L113.9 346.5" stroke="#000" stroke-width="1.1" stroke-linecap="butt"/>
<line x1="112.4" y1="343.5" x2="115.4" y2="343.5" stroke="#000" stroke-width="0.9"/>
<path d="M118.2 341.7 L118.2 346.5" stroke="#000" stroke-width="1.1" stroke-linecap="butt"/>
<line x1="116.7" y1="343.5" x2="119.7" y2="343.5" stroke="#000" stroke-width="0.9"/>
<polyline points="61,365.8 61,362.2 130.2,362.2 130.2,365.8" fill="none" stroke="#000" stroke-width="1.4"/>
<path d="M90.4 354.7 L90.4 359.5" stroke="#000" stroke-width="1.1" stroke-linecap="butt"/>
<line x1="88.9" y1="356.5" x2="91.9" y2="356.5" stroke="#000" stroke-width="0.9"/>
<path d="M94.7 354.7 L94.7 359.5" stroke="#000" stroke-width="1.1" stroke-linecap="butt"/>
<line x1="93.2" y1="356.5" x2="96.2" y2="356.5" stroke="#000" stroke-width="0.9"/>
<path d="M99 354.7 L99 359.5" stroke="#000" stroke-width="1.1" stroke-linecap="butt"/>
<line x1="97.5" y1="356.5" x2="100.5" y2="356.5" stroke="#000" stroke-width="0.9"/>
<polyline points="61,378.3 61,374.7 97.1,374.7 97.1,378.3" fill="none" stroke="#000" stroke-width="1.4"/>
<path d="M74.7 367.5 L74.7 372.3" stroke="#000" stroke-width="1.1" stroke-linecap="butt"/>
<line x1="73.2" y1="369.3" x2="76.2" y2="369.3" stroke="#000" stroke-width="0.9"/>
<path d="M79 367.5 L79 372.3" stroke="#000" stroke-width="1.1" stroke-linecap="butt"/>
<line x1="77.5" y1="369.3" x2="80.5" y2="369.3" stroke="#000" stroke-width="0.9"/>
<path d="M83.3 367.5 L83.3 372.3" stroke="#000" stroke-width="1.1" stroke-linecap="butt"/>
<line x1="81.8" y1="369.3" x2="84.8" y2="369.3" stroke="#000" stroke-width="0.9"/>
<polyline points="98.3,399.9 98.3,396.3 170.4,396.3 170.4,399.9" fill="none" stroke="#000" stroke-width="1.4"/>
<polygon points="130.5,389.25 131.19,390.8 132.88,390.98 131.62,392.11 131.97,393.77 130.5,392.93 129.03,393.77 129.38,392.11 128.12,390.98 129.81,390.8" fill="#000"/>
<polygon points="135.7,389.25 136.39,390.8 138.08,390.98 136.82,392.11 137.17,393.77 135.7,392.93 134.23,393.77 134.58,392.11 133.32,390.98 135.01,390.8" fill="#000"/>
<polyline points="98.3,412.6 98.3,409 131.4,409 131.4,412.6" fill="none" stroke="#000" stroke-width="1.4"/>
<polygon points="112,403.15 112.69,404.7 114.38,404.88 113.12,406.01 113.47,407.67 112,406.82 110.53,407.67 110.88,406.01 109.62,404.88 111.31,404.7" fill="#000"/>
<polygon points="117.2,403.15 117.89,404.7 119.58,404.88 118.32,406.01 118.67,407.67 117.2,406.82 115.73,407.67 116.08,406.01 114.82,404.88 116.51,404.7" fill="#000"/>
<circle cx="62.4" cy="388.41" r="2.4" fill="#000"/>
<circle cx="62.4" cy="402.94" r="2.4" fill="#000"/>
<circle cx="62.4" cy="428.76" r="2.4" fill="#000"/>
<circle cx="62.4" cy="444.36" r="2.4" fill="#000"/>
<line x1="49.7" y1="415.31" x2="74.5" y2="415.31" stroke="#000" stroke-width="1.4"/>
<line x1="62.4" y1="402.94" x2="62.4" y2="428.76" stroke="#000" stroke-width="1.4"/>
<line x1="56" y1="402.94" x2="68.7" y2="402.94" stroke="#000" stroke-width="1.4"/>
<line x1="56" y1="428.76" x2="68.7" y2="428.76" stroke="#000" stroke-width="1.4"/>
<rect x="97.05" y="426.05" width="4.3" height="4.3" fill="#000"/>
<rect x="93.45" y="435.45" width="4.3" height="4.3" fill="#000"/>
<rect x="100.15" y="435.95" width="4.3" height="4.3" fill="#000"/>
<rect x="97.05" y="451.85" width="4.3" height="4.3" fill="#000"/>
<rect x="90.85" y="460.45" width="4.3" height="4.3" fill="#000"/>
<rect x="97.05" y="459.55" width="4.3" height="4.3" fill="#000"/>
<rect x="103.05" y="463.55" width="4.3" height="4.3" fill="#000"/>
<rect x="100.35" y="461.85" width="4.3" height="4.3" fill="#000"/>
<rect x="92.85" y="472.15" width="4.3" height="4.3" fill="#000"/>
<rect x="99.85" y="472.15" width="4.3" height="4.3" fill="#000"/>
<rect x="90.85" y="476.15" width="4.3" height="4.3" fill="#000"/>
<rect x="97.05" y="480.15" width="4.3" height="4.3" fill="#000"/>
<rect x="103.35" y="479.45" width="4.3" height="4.3" fill="#000"/>
<rect x="103.35" y="483.45" width="4.3" height="4.3" fill="#000"/>
<rect x="90.85" y="484.75" width="4.3" height="4.3" fill="#000"/>
<rect x="97.05" y="486.95" width="4.3" height="4.3" fill="#000"/>
<rect x="97.05" y="497.95" width="4.3" height="4.3" fill="#000"/>
<line x1="86.6" y1="468.3" x2="111.5" y2="468.3" stroke="#000" stroke-width="1.4"/>
<line x1="99.2" y1="464.5" x2="99.2" y2="472" stroke="#000" stroke-width="1.4"/>
<line x1="95" y1="464.5" x2="103.4" y2="464.5" stroke="#000" stroke-width="1.4"/>
<line x1="95" y1="472" x2="103.4" y2="472" stroke="#000" stroke-width="1.4"/>
<polygon points="135.6,488.39 133,493.07 138.2,493.07" fill="#000"/>
<polygon points="129,499.69 126.4,504.37 131.6,504.37" fill="#000"/>
<polygon points="133,497.69 130.4,502.37 135.6,502.37" fill="#000"/>
<polygon points="137.5,499.69 134.9,504.37 140.1,504.37" fill="#000"/>
<polygon points="141.5,498.69 138.9,503.37 144.1,503.37" fill="#000"/>
<polygon points="135,501.69 132.4,506.37 137.6,506.37" fill="#000"/>
<line x1="123.5" y1="500.6" x2="148" y2="500.6" stroke="#000" stroke-width="1.4"/>
<line x1="130" y1="498.5" x2="141" y2="498.5" stroke="#000" stroke-width="1"/>
<line x1="130" y1="503" x2="141" y2="503" stroke="#000" stroke-width="1"/>
<polygon points="170,495.31 167.4,490.63 172.6,490.63" fill="#000"/>
<polygon points="176.5,495.31 173.9,490.63 179.1,490.63" fill="#000"/>
<polygon points="162.5,504.81 159.9,500.13 165.1,500.13" fill="#000"/>
<polygon points="181,504.81 178.4,500.13 183.6,500.13" fill="#000"/>
<polygon points="168,508.31 165.4,503.63 170.6,503.63" fill="#000"/>
<polygon points="174.5,508.31 171.9,503.63 177.1,503.63" fill="#000"/>
<polygon points="171,503.31 168.4,498.63 173.6,498.63" fill="#000"/>
<line x1="160" y1="501" x2="184" y2="501" stroke="#000" stroke-width="1.4"/>
<line x1="171.9" y1="498.6" x2="171.9" y2="503.5" stroke="#000" stroke-width="1.4"/>
<line x1="166.5" y1="498.6" x2="177.5" y2="498.6" stroke="#000" stroke-width="1.4"/>
<line x1="166.5" y1="503.5" x2="177.5" y2="503.5" stroke="#000" stroke-width="1.4"/>
<text transform="translate(20.2 470.45) rotate(-90)" font-size="9.7" font-weight="bold" text-anchor="middle">AZD6738</text>
<text transform="translate(20.2 436.7) rotate(-90)" font-size="9.7" font-weight="bold" text-anchor="middle">EC</text>
<text transform="translate(22.53 425.4) rotate(-90)" font-size="6.21" font-weight="bold" text-anchor="middle">50</text>
<text transform="translate(20.2 407.1) rotate(-90)" font-size="9.7" font-weight="bold" text-anchor="middle" font-style="italic">(&#956;M)</text>
<text x="56.5" y="523.8" font-size="8.45" font-weight="bold" text-anchor="middle" fill="#000">Healthy</text>
<text x="56.5" y="533.6" font-size="8.45" font-weight="bold" text-anchor="middle" fill="#000">Donor</text>
<text x="95" y="523.8" font-size="8.45" font-weight="bold" text-anchor="middle" font-style="italic">ATM/</text>
<text x="95" y="533.6" font-size="8.45" font-weight="bold" text-anchor="middle"><tspan font-style="italic">TP53</tspan>-wt</text>
<text x="95" y="543.5" font-size="8.45" font-weight="bold" text-anchor="middle" fill="#000">CLL</text>
<text x="135.4" y="523.8" font-size="8.45" font-weight="bold" text-anchor="middle" font-style="italic" fill="#000">ATM</text>
<text x="135.4" y="533.6" font-size="8.45" font-weight="bold" text-anchor="middle" fill="#000">defective</text>
<text x="135.4" y="543.5" font-size="8.45" font-weight="bold" text-anchor="middle" fill="#000">CLL</text>
<text x="174.5" y="523.8" font-size="8.45" font-weight="bold" text-anchor="middle" font-style="italic" fill="#000">TP53</text>
<text x="175.3" y="533.6" font-size="8.45" font-weight="bold" text-anchor="middle" fill="#000">defective</text>
<text x="175.3" y="543.5" font-size="8.45" font-weight="bold" text-anchor="middle" fill="#000">CLL</text>
<text transform="translate(227.9 348.5) scale(0.87 1)" font-size="13.2" font-weight="bold">E</text>
<line x1="262" y1="366.6" x2="262" y2="477.9" stroke="#000" stroke-width="1.4"/>
<line x1="261.5" y1="477.4" x2="429" y2="477.4" stroke="#000" stroke-width="1.4"/>
<line x1="259.5" y1="477.4" x2="262" y2="477.4" stroke="#000" stroke-width="1"/>
<text x="256.6" y="479.8" font-size="8" font-weight="bold" text-anchor="end" fill="#000">0</text>
<line x1="259.5" y1="449.7" x2="262" y2="449.7" stroke="#000" stroke-width="1"/>
<text x="256.6" y="452.1" font-size="8" font-weight="bold" text-anchor="end" fill="#000">20</text>
<line x1="259.5" y1="422" x2="262" y2="422" stroke="#000" stroke-width="1"/>
<text x="256.6" y="424.4" font-size="8" font-weight="bold" text-anchor="end" fill="#000">40</text>
<line x1="259.5" y1="394.3" x2="262" y2="394.3" stroke="#000" stroke-width="1"/>
<text x="256.6" y="396.7" font-size="8" font-weight="bold" text-anchor="end" fill="#000">60</text>
<line x1="259.5" y1="366.6" x2="262" y2="366.6" stroke="#000" stroke-width="1"/>
<text x="256.6" y="369" font-size="8" font-weight="bold" text-anchor="end" fill="#000">80</text>
<line x1="275.6" y1="477.4" x2="275.6" y2="479.9" stroke="#000" stroke-width="1"/>
<line x1="303.8" y1="477.4" x2="303.8" y2="479.9" stroke="#000" stroke-width="1"/>
<line x1="331.7" y1="477.4" x2="331.7" y2="479.9" stroke="#000" stroke-width="1"/>
<line x1="359.3" y1="477.4" x2="359.3" y2="479.9" stroke="#000" stroke-width="1"/>
<line x1="387.3" y1="477.4" x2="387.3" y2="479.9" stroke="#000" stroke-width="1"/>
<line x1="415.2" y1="477.4" x2="415.2" y2="479.9" stroke="#000" stroke-width="1"/>
<polyline points="276.5,354.2 276.5,351.2 305.9,351.2 305.9,354.2" fill="none" stroke="#000" stroke-width="0.9"/>
<text x="292.3" y="348.4" font-size="7.9" font-weight="normal" text-anchor="middle" letter-spacing="0.35" fill="#000">n.s.</text>
<polyline points="331,354.2 331,351.2 360.4,351.2 360.4,354.2" fill="none" stroke="#000" stroke-width="0.9"/>
<text x="347.3" y="348.4" font-size="7.9" font-weight="normal" text-anchor="middle" letter-spacing="0.35" fill="#000">n.s.</text>
<polyline points="384.8,354.2 384.8,351.2 413.8,351.2 413.8,354.2" fill="none" stroke="#000" stroke-width="0.9"/>
<text x="399.3" y="348.4" font-size="7.9" font-weight="normal" text-anchor="middle" letter-spacing="0.35" fill="#000">n.s.</text>
<text transform="translate(241.9 445.65) rotate(-90)" font-size="9.8" font-weight="bold" text-anchor="middle">AZD6738</text>
<text transform="translate(241.9 413.9) rotate(-90)" font-size="9.8" font-weight="bold" text-anchor="middle">EC</text>
<text transform="translate(244.25 402.4) rotate(-90)" font-size="6.27" font-weight="bold" text-anchor="middle">50</text>
<text transform="translate(241.9 382.35) rotate(-90)" font-size="9.8" font-weight="bold" text-anchor="middle">(&#956;M)</text>
<rect x="273.75" y="369.25" width="4.5" height="4.5" fill="#000"/>
<rect x="273.75" y="382.45" width="4.5" height="4.5" fill="#000"/>
<rect x="273.75" y="401.95" width="4.5" height="4.5" fill="#000"/>
<rect x="273.75" y="418.95" width="4.5" height="4.5" fill="#000"/>
<rect x="270.75" y="428.75" width="4.5" height="4.5" fill="#000"/>
<rect x="277.05" y="429.25" width="4.5" height="4.5" fill="#000"/>
<rect x="270.75" y="433.85" width="4.5" height="4.5" fill="#000"/>
<rect x="276.45" y="436.75" width="4.5" height="4.5" fill="#000"/>
<rect x="273.55" y="440.25" width="4.5" height="4.5" fill="#000"/>
<rect x="273.75" y="441.55" width="4.5" height="4.5" fill="#000"/>
<rect x="267.05" y="445.95" width="4.5" height="4.5" fill="#000"/>
<rect x="270.45" y="449.25" width="4.5" height="4.5" fill="#000"/>
<rect x="277.15" y="447.95" width="4.5" height="4.5" fill="#000"/>
<rect x="275.25" y="446.25" width="4.5" height="4.5" fill="#000"/>
<rect x="270.45" y="461.35" width="4.5" height="4.5" fill="#000"/>
<rect x="277.15" y="461.35" width="4.5" height="4.5" fill="#000"/>
<rect x="266.15" y="466.15" width="4.5" height="4.5" fill="#000"/>
<rect x="271.45" y="466.15" width="4.5" height="4.5" fill="#000"/>
<rect x="276.25" y="466.15" width="4.5" height="4.5" fill="#000"/>
<rect x="280.55" y="466.15" width="4.5" height="4.5" fill="#000"/>
<rect x="270.45" y="469.25" width="4.5" height="4.5" fill="#000"/>
<rect x="273.35" y="470.95" width="4.5" height="4.5" fill="#000"/>
<line x1="267" y1="442.7" x2="285" y2="442.7" stroke="#000" stroke-width="1.4"/>
<line x1="276" y1="440" x2="276" y2="446" stroke="#000" stroke-width="1.4"/>
<rect x="301.95" y="380.75" width="4.5" height="4.5" fill="#000"/>
<rect x="297.95" y="413.15" width="4.5" height="4.5" fill="#000"/>
<rect x="304.75" y="412.15" width="4.5" height="4.5" fill="#000"/>
<rect x="301.75" y="420.75" width="4.5" height="4.5" fill="#000"/>
<rect x="301.75" y="439.05" width="4.5" height="4.5" fill="#000"/>
<rect x="294.25" y="453.15" width="4.5" height="4.5" fill="#000"/>
<rect x="301.75" y="453.15" width="4.5" height="4.5" fill="#000"/>
<rect x="308.75" y="453.15" width="4.5" height="4.5" fill="#000"/>
<rect x="304.75" y="465.45" width="4.5" height="4.5" fill="#000"/>
<rect x="298.05" y="471.25" width="4.5" height="4.5" fill="#000"/>
<line x1="294.8" y1="438" x2="312.7" y2="438" stroke="#000" stroke-width="1.4"/>
<line x1="303.8" y1="429.4" x2="303.8" y2="447.1" stroke="#000" stroke-width="1.4"/>
<line x1="299.5" y1="429.4" x2="308.5" y2="429.4" stroke="#000" stroke-width="1.4"/>
<line x1="299.5" y1="447.1" x2="308.5" y2="447.1" stroke="#000" stroke-width="1.4"/>
<line x1="323" y1="435" x2="340.8" y2="435" stroke="#000" stroke-width="1.4"/>
<line x1="331.7" y1="424.6" x2="331.7" y2="446.2" stroke="#000" stroke-width="1.4"/>
<line x1="327" y1="424.6" x2="336.5" y2="424.6" stroke="#000" stroke-width="1.4"/>
<line x1="327" y1="446.2" x2="336.5" y2="446.2" stroke="#000" stroke-width="1.4"/>
<circle cx="331.7" cy="371.2" r="2.2" fill="#fff" stroke="#000" stroke-width="1.35"/>
<circle cx="331.7" cy="384.6" r="2.2" fill="#fff" stroke="#000" stroke-width="1.35"/>
<circle cx="331.7" cy="420.8" r="2.2" fill="#fff" stroke="#000" stroke-width="1.35"/>
<circle cx="331.7" cy="430.8" r="2.2" fill="#fff" stroke="#000" stroke-width="1.35"/>
<circle cx="331.7" cy="440" r="2.2" fill="#fff" stroke="#000" stroke-width="1.35"/>
<circle cx="328" cy="450.4" r="2.2" fill="#fff" stroke="#000" stroke-width="1.35"/>
<circle cx="335" cy="450.4" r="2.2" fill="#fff" stroke="#000" stroke-width="1.35"/>
<circle cx="325" cy="464.4" r="2.2" fill="#fff" stroke="#000" stroke-width="1.35"/>
<circle cx="332" cy="469.2" r="2.2" fill="#fff" stroke="#000" stroke-width="1.35"/>
<circle cx="338.5" cy="469.2" r="2.2" fill="#fff" stroke="#000" stroke-width="1.35"/>
<line x1="350.2" y1="441.3" x2="368.5" y2="441.3" stroke="#000" stroke-width="1.4"/>
<line x1="359.3" y1="437" x2="359.3" y2="446" stroke="#000" stroke-width="1.4"/>
<line x1="355" y1="437" x2="363.5" y2="437" stroke="#000" stroke-width="1.4"/>
<line x1="355" y1="446" x2="363.5" y2="446" stroke="#000" stroke-width="1.4"/>
<circle cx="359.4" cy="383.3" r="2.2" fill="#fff" stroke="#000" stroke-width="1.35"/>
<circle cx="359.2" cy="404.2" r="2.2" fill="#fff" stroke="#000" stroke-width="1.35"/>
<circle cx="355.5" cy="415.4" r="2.2" fill="#fff" stroke="#000" stroke-width="1.35"/>
<circle cx="362.5" cy="414.4" r="2.2" fill="#fff" stroke="#000" stroke-width="1.35"/>
<circle cx="359.2" cy="423" r="2.2" fill="#fff" stroke="#000" stroke-width="1.35"/>
<circle cx="362.5" cy="430.8" r="2.2" fill="#fff" stroke="#000" stroke-width="1.35"/>
<circle cx="356" cy="436.2" r="2.2" fill="#fff" stroke="#000" stroke-width="1.35"/>
<circle cx="366" cy="441.3" r="2.2" fill="#fff" stroke="#000" stroke-width="1.35"/>
<circle cx="352" cy="445.2" r="2.2" fill="#fff" stroke="#000" stroke-width="1.35"/>
<circle cx="359" cy="446.2" r="2.2" fill="#fff" stroke="#000" stroke-width="1.35"/>
<circle cx="352" cy="455.8" r="2.2" fill="#fff" stroke="#000" stroke-width="1.35"/>
<circle cx="359" cy="455.8" r="2.2" fill="#fff" stroke="#000" stroke-width="1.35"/>
<circle cx="366" cy="455.8" r="2.2" fill="#fff" stroke="#000" stroke-width="1.35"/>
<circle cx="355" cy="464.4" r="2.2" fill="#fff" stroke="#000" stroke-width="1.35"/>
<circle cx="362" cy="465.4" r="2.2" fill="#fff" stroke="#000" stroke-width="1.35"/>
<circle cx="352" cy="467.3" r="2.2" fill="#fff" stroke="#000" stroke-width="1.35"/>
<circle cx="366" cy="467.3" r="2.2" fill="#fff" stroke="#000" stroke-width="1.35"/>
<circle cx="355.5" cy="473" r="2.2" fill="#fff" stroke="#000" stroke-width="1.35"/>
<circle cx="362.5" cy="473" r="2.2" fill="#fff" stroke="#000" stroke-width="1.35"/>
<line x1="378" y1="438.5" x2="396.3" y2="438.5" stroke="#000" stroke-width="1.4"/>
<line x1="387.3" y1="426.3" x2="387.3" y2="450" stroke="#000" stroke-width="1.4"/>
<line x1="382.5" y1="426.3" x2="392" y2="426.3" stroke="#000" stroke-width="1.4"/>
<line x1="382.5" y1="450" x2="392" y2="450" stroke="#000" stroke-width="1.4"/>
<polygon points="387.3,369.22 385,373.36 389.6,373.36" fill="#fff" stroke="#000" stroke-width="1.3"/>
<polygon points="387.3,420.52 385,424.66 389.6,424.66" fill="#fff" stroke="#000" stroke-width="1.3"/>
<polygon points="387.3,446.52 385,450.66 389.6,450.66" fill="#fff" stroke="#000" stroke-width="1.3"/>
<polygon points="382,453.32 379.7,457.46 384.3,457.46" fill="#fff" stroke="#000" stroke-width="1.3"/>
<polygon points="387.3,453.32 385,457.46 389.6,457.46" fill="#fff" stroke="#000" stroke-width="1.3"/>
<polygon points="394,449.02 391.7,453.16 396.3,453.16" fill="#fff" stroke="#000" stroke-width="1.3"/>
<polygon points="387.3,465.22 385,469.36 389.6,469.36" fill="#fff" stroke="#000" stroke-width="1.3"/>
<line x1="406.3" y1="446.7" x2="424.2" y2="446.7" stroke="#000" stroke-width="1.4"/>
<line x1="415.2" y1="441.3" x2="415.2" y2="453.5" stroke="#000" stroke-width="1.4"/>
<line x1="411" y1="441.3" x2="419.5" y2="441.3" stroke="#000" stroke-width="1.4"/>
<line x1="411" y1="453.5" x2="419.5" y2="453.5" stroke="#000" stroke-width="1.4"/>
<polygon points="415.2,402.32 412.9,406.46 417.5,406.46" fill="#fff" stroke="#000" stroke-width="1.3"/>
<polygon points="408,412.52 405.7,416.66 410.3,416.66" fill="#fff" stroke="#000" stroke-width="1.3"/>
<polygon points="422,413.32 419.7,417.46 424.3,417.46" fill="#fff" stroke="#000" stroke-width="1.3"/>
<polygon points="415.2,419.02 412.9,423.16 417.5,423.16" fill="#fff" stroke="#000" stroke-width="1.3"/>
<polygon points="411.7,429.22 409.4,433.36 414,433.36" fill="#fff" stroke="#000" stroke-width="1.3"/>
<polygon points="418.8,429.22 416.5,433.36 421.1,433.36" fill="#fff" stroke="#000" stroke-width="1.3"/>
<polygon points="411.7,438.82 409.4,442.96 414,442.96" fill="#fff" stroke="#000" stroke-width="1.3"/>
<polygon points="418.8,437.52 416.5,441.66 421.1,441.66" fill="#fff" stroke="#000" stroke-width="1.3"/>
<polygon points="415.2,461.92 412.9,466.06 417.5,466.06" fill="#fff" stroke="#000" stroke-width="1.3"/>
<polygon points="408.5,468.02 406.2,472.16 410.8,472.16" fill="#fff" stroke="#000" stroke-width="1.3"/>
<polygon points="413,466.02 410.7,470.16 415.3,470.16" fill="#fff" stroke="#000" stroke-width="1.3"/>
<polygon points="418,466.02 415.7,470.16 420.3,470.16" fill="#fff" stroke="#000" stroke-width="1.3"/>
<polygon points="422,467.72 419.7,471.86 424.3,471.86" fill="#fff" stroke="#000" stroke-width="1.3"/>
<polygon points="429,470.52 426.7,474.66 431.3,474.66" fill="#fff" stroke="#000" stroke-width="1.3"/>
<polygon points="415.5,471.02 413.2,475.16 417.8,475.16" fill="#fff" stroke="#000" stroke-width="1.3"/>
<text x="280.8" y="490.5" font-size="8.35" font-weight="bold" text-anchor="end" transform="rotate(-44 280.8 490.5)" fill="#000">Binet Stage A</text>
<text x="304.3" y="490.5" font-size="8.35" font-weight="bold" text-anchor="end" transform="rotate(-44 304.3 490.5)" fill="#000">Binet Stage B/C</text>
<text x="332.8" y="490.5" font-size="8.35" font-weight="bold" text-anchor="end" transform="rotate(-44 332.8 490.5)" fill="#000">Treatment naive</text>
<text x="361.3" y="490.5" font-size="8.35" font-weight="bold" text-anchor="end" transform="rotate(-44 361.3 490.5)" fill="#000">Previously treated</text>
<text x="388.8" y="490.5" font-size="8.35" font-weight="bold" text-anchor="end" transform="rotate(-44 388.8 490.5)" fill="#000">IGHV Unmutated</text>
<text x="417.3" y="490.5" font-size="8.35" font-weight="bold" text-anchor="end" transform="rotate(-44 417.3 490.5)" fill="#000">IGHV Mutated</text>
<text transform="translate(1.6 560.3) scale(0.87 1)" font-size="13.2" font-weight="bold">F</text>
<line x1="34.2" y1="614.05" x2="34.2" y2="718.3" stroke="#000" stroke-width="1.4"/>
<line x1="33.7" y1="717.8" x2="191" y2="717.8" stroke="#000" stroke-width="1.4"/>
<line x1="31.7" y1="717.8" x2="34.2" y2="717.8" stroke="#000" stroke-width="1"/>
<text x="30.4" y="720.4" font-size="7.8" font-weight="bold" text-anchor="end" fill="#000">0.0</text>
<line x1="31.7" y1="697.05" x2="34.2" y2="697.05" stroke="#000" stroke-width="1"/>
<text x="30.4" y="699.65" font-size="7.8" font-weight="bold" text-anchor="end" fill="#000">0.5</text>
<line x1="31.7" y1="676.3" x2="34.2" y2="676.3" stroke="#000" stroke-width="1"/>
<text x="30.4" y="678.9" font-size="7.8" font-weight="bold" text-anchor="end" fill="#000">1.0</text>
<line x1="31.7" y1="655.55" x2="34.2" y2="655.55" stroke="#000" stroke-width="1"/>
<text x="30.4" y="658.15" font-size="7.8" font-weight="bold" text-anchor="end" fill="#000">1.5</text>
<line x1="31.7" y1="634.8" x2="34.2" y2="634.8" stroke="#000" stroke-width="1"/>
<text x="30.4" y="637.4" font-size="7.8" font-weight="bold" text-anchor="end" fill="#000">2.0</text>
<line x1="31.7" y1="614.05" x2="34.2" y2="614.05" stroke="#000" stroke-width="1"/>
<text x="30.4" y="616.65" font-size="7.8" font-weight="bold" text-anchor="end" fill="#000">2.5</text>
<line x1="73.6" y1="717.8" x2="73.6" y2="720.3" stroke="#000" stroke-width="1"/>
<line x1="151.3" y1="717.8" x2="151.3" y2="720.3" stroke="#000" stroke-width="1"/>
<circle cx="73" cy="564.5" r="2" fill="#000"/>
<rect x="71.1" y="573.2" width="3.8" height="3.8" fill="#000"/>
<polygon points="73,583.03 70.9,586.81 75.1,586.81" fill="#000"/>
<polygon points="73,597.47 70.9,593.69 75.1,593.69" fill="#000"/>
<text x="80" y="567.5" font-size="8.3" font-weight="normal" text-anchor="start" fill="#000">CLL29&#160; (del(17p), p.I251S)</text>
<text x="80" y="578.1" font-size="8.3" font-weight="normal" text-anchor="start" fill="#000">CLL31&#160; (del(17p). p.M237I)</text>
<text x="80" y="588.3" font-size="8.3" font-weight="normal" text-anchor="start" fill="#000">CLL25&#160; (del(11q), p.I1407T)</text>
<text x="80" y="598.2" font-size="8.3" font-weight="normal" text-anchor="start" fill="#000">CLL26&#160; (del(11q), p.L3013Q)</text>
<polyline points="74,616.9 74,614.4 149.2,614.4 149.2,616.9" fill="none" stroke="#000" stroke-width="1"/>
<polygon points="110.7,607.04 111.36,608.53 112.98,608.7 111.77,609.79 112.11,611.38 110.7,610.57 109.29,611.38 109.63,609.79 108.42,608.7 110.04,608.53" fill="#000"/>
<polygon points="116.5,607.04 117.16,608.53 118.78,608.7 117.57,609.79 117.91,611.38 116.5,610.57 115.09,611.38 115.43,609.79 114.22,608.7 115.84,608.53" fill="#000"/>
<text transform="translate(17 657.6) rotate(-90)" font-size="8.7" font-weight="bold" text-anchor="middle">Relative number of CLL cells/ spleen</text>
<line x1="47" y1="676" x2="99.5" y2="676" stroke="#000" stroke-width="1.4"/>
<polygon points="73.6,635.01 71,630.33 76.2,630.33" fill="#000"/>
<polygon points="73.6,649.49 71,654.17 76.2,654.17" fill="#000"/>
<circle cx="73.6" cy="662.8" r="2.3" fill="#000"/>
<rect x="67.6" y="667.4" width="4.4" height="4.4" fill="#000"/>
<circle cx="77" cy="669.6" r="2.3" fill="#000"/>
<polygon points="73.6,675.19 71,679.87 76.2,679.87" fill="#000"/>
<rect x="74.8" y="680.5" width="4.4" height="4.4" fill="#000"/>
<polygon points="70,689.31 67.4,684.63 72.6,684.63" fill="#000"/>
<circle cx="70" cy="696" r="2.3" fill="#000"/>
<polygon points="77,695.39 74.4,700.07 79.6,700.07" fill="#000"/>
<polygon points="73.6,710.91 71,706.23 76.2,706.23" fill="#000"/>
<line x1="124.9" y1="709.4" x2="177.8" y2="709.4" stroke="#000" stroke-width="1.4"/>
<rect x="149.5" y="684.5" width="4.4" height="4.4" fill="#000"/>
<polygon points="148.2,690.19 145.6,694.87 150.8,694.87" fill="#000"/>
<rect x="152.8" y="693.4" width="4.4" height="4.4" fill="#000"/>
<polygon points="132.7,713.21 130.1,708.53 135.3,708.53" fill="#000"/>
<polygon points="138.8,713.49 136.2,718.17 141.4,718.17" fill="#000"/>
<circle cx="145.2" cy="716.5" r="2.3" fill="#000"/>
<circle cx="151.3" cy="716.5" r="2.3" fill="#000"/>
<polygon points="151.3,719.77 149.2,715.99 153.4,715.99" fill="#000"/>
<polygon points="158,719.01 155.4,714.33 160.6,714.33" fill="#000"/>
<polygon points="164.5,713.49 161.9,718.17 167.1,718.17" fill="#000"/>
<polygon points="170.5,717.31 167.9,712.63 173.1,712.63" fill="#000"/>
<text x="72.4" y="734.5" font-size="9.4" font-weight="bold" text-anchor="middle" fill="#000">Vehicle</text>
<text x="153.9" y="734.5" font-size="9.4" font-weight="bold" text-anchor="middle" fill="#000">AZD6738</text>
<line x1="60.3" y1="739" x2="173.1" y2="739" stroke="#000" stroke-width="1.4"/>
<text x="116.7" y="750" font-size="9.4" font-weight="bold" text-anchor="middle" fill="#000">All xenografts</text>
<text transform="translate(207.2 560.3) scale(0.87 1)" font-size="13.2" font-weight="bold">G</text>
<line x1="231.5" y1="605.45" x2="231.5" y2="715.7" stroke="#000" stroke-width="1.4"/>
<line x1="231" y1="715.2" x2="397" y2="715.2" stroke="#000" stroke-width="1.4"/>
<line x1="229" y1="715.2" x2="231.5" y2="715.2" stroke="#000" stroke-width="1"/>
<text x="228.3" y="717.7" font-size="7.8" font-weight="bold" text-anchor="end" fill="#000">0.0</text>
<line x1="229" y1="693.25" x2="231.5" y2="693.25" stroke="#000" stroke-width="1"/>
<text x="228.3" y="695.75" font-size="7.8" font-weight="bold" text-anchor="end" fill="#000">0.5</text>
<line x1="229" y1="671.3" x2="231.5" y2="671.3" stroke="#000" stroke-width="1"/>
<text x="228.3" y="673.8" font-size="7.8" font-weight="bold" text-anchor="end" fill="#000">1.0</text>
<line x1="229" y1="649.35" x2="231.5" y2="649.35" stroke="#000" stroke-width="1"/>
<text x="228.3" y="651.85" font-size="7.8" font-weight="bold" text-anchor="end" fill="#000">1.5</text>
<line x1="229" y1="627.4" x2="231.5" y2="627.4" stroke="#000" stroke-width="1"/>
<text x="228.3" y="629.9" font-size="7.8" font-weight="bold" text-anchor="end" fill="#000">2.0</text>
<line x1="229" y1="605.45" x2="231.5" y2="605.45" stroke="#000" stroke-width="1"/>
<text x="228.3" y="607.95" font-size="7.8" font-weight="bold" text-anchor="end" fill="#000">2.5</text>
<line x1="252.9" y1="715.2" x2="252.9" y2="717.7" stroke="#000" stroke-width="1"/>
<line x1="293.7" y1="715.2" x2="293.7" y2="717.7" stroke="#000" stroke-width="1"/>
<line x1="335.1" y1="715.2" x2="335.1" y2="717.7" stroke="#000" stroke-width="1"/>
<line x1="376.9" y1="715.2" x2="376.9" y2="717.7" stroke="#000" stroke-width="1"/>
<circle cx="282.5" cy="561.6" r="2" fill="#000"/>
<rect x="280.6" y="569.8" width="3.8" height="3.8" fill="#000"/>
<polygon points="282.5,579.63 280.4,583.41 284.6,583.41" fill="#000"/>
<polygon points="282.5,594.07 280.4,590.29 284.6,590.29" fill="#000"/>
<text x="288.4" y="564.6" font-size="8.3" font-weight="normal" text-anchor="start" fill="#000">CLL29&#160; (del(17p), p.I251S)</text>
<text x="288.4" y="574.7" font-size="8.3" font-weight="normal" text-anchor="start" fill="#000">CLL31&#160; (del(17p). p.M237I)</text>
<text x="288.4" y="584.9" font-size="8.3" font-weight="normal" text-anchor="start" fill="#000">CLL25&#160; (del(11q), p.I1407T)</text>
<text x="288.4" y="594.8" font-size="8.3" font-weight="normal" text-anchor="start" fill="#000">CLL26&#160; (del(11q), p.L3013Q)</text>
<polyline points="252.5,646.2 252.5,643.7 292,643.7 292,646.2" fill="none" stroke="#000" stroke-width="1"/>
<polygon points="272.5,636.75 273.19,638.3 274.88,638.48 273.62,639.61 273.97,641.27 272.5,640.42 271.03,641.27 271.38,639.61 270.12,638.48 271.81,638.3" fill="#000"/>
<polyline points="333.5,612.8 333.5,610.3 373.4,610.3 373.4,612.8" fill="none" stroke="#000" stroke-width="1"/>
<polygon points="354.2,603.75 354.89,605.3 356.58,605.48 355.32,606.61 355.67,608.27 354.2,607.42 352.73,608.27 353.08,606.61 351.82,605.48 353.51,605.3" fill="#000"/>
<text transform="translate(213 652.2) rotate(-90)" font-size="8.6" font-weight="bold" text-anchor="middle">Relative number of CLL cells/ spleen</text>
<line x1="238.5" y1="671.7" x2="266.6" y2="671.7" stroke="#000" stroke-width="1.4"/>
<circle cx="252.9" cy="657.6" r="2.3" fill="#000"/>
<rect x="247.3" y="662.8" width="4.4" height="4.4" fill="#000"/>
<circle cx="256.5" cy="665" r="2.3" fill="#000"/>
<rect x="250.7" y="676.3" width="4.4" height="4.4" fill="#000"/>
<circle cx="252.9" cy="692.5" r="2.3" fill="#000"/>
<line x1="280" y1="701.8" x2="307.9" y2="701.8" stroke="#000" stroke-width="1.4"/>
<rect x="291.5" y="680.8" width="4.4" height="4.4" fill="#000"/>
<rect x="291.5" y="690.3" width="4.4" height="4.4" fill="#000"/>
<circle cx="290" cy="715" r="2.3" fill="#000"/>
<circle cx="297" cy="715" r="2.3" fill="#000"/>
<line x1="320.8" y1="671.2" x2="349.6" y2="671.2" stroke="#000" stroke-width="1.4"/>
<polygon points="335.1,627.41 332.5,622.73 337.7,622.73" fill="#000"/>
<polygon points="335.1,643.29 332.5,647.97 337.7,647.97" fill="#000"/>
<polygon points="335.1,670.69 332.5,675.37 337.7,675.37" fill="#000"/>
<polygon points="335.1,685.61 332.5,680.93 337.7,680.93" fill="#000"/>
<polygon points="335.1,692.19 332.5,696.87 337.7,696.87" fill="#000"/>
<polygon points="335.1,707.81 332.5,703.13 337.7,703.13" fill="#000"/>
<line x1="362.8" y1="709.5" x2="390.7" y2="709.5" stroke="#000" stroke-width="1.4"/>
<polygon points="376.9,686.89 374.3,691.57 379.5,691.57" fill="#000"/>
<polygon points="373,711.71 370.4,707.03 375.6,707.03" fill="#000"/>
<polygon points="369.5,711.49 366.9,716.17 372.1,716.17" fill="#000"/>
<polygon points="376.5,711.49 373.9,716.17 379.1,716.17" fill="#000"/>
<polygon points="380.5,716.31 377.9,711.63 383.1,711.63" fill="#000"/>
<polygon points="383.5,711.49 380.9,716.17 386.1,716.17" fill="#000"/>
<text x="245.5" y="731" font-size="9.4" font-weight="bold" text-anchor="middle" fill="#000">Vehicle</text>
<text x="291" y="731" font-size="9.4" font-weight="bold" text-anchor="middle" fill="#000">AZD6738</text>
<text x="335" y="731" font-size="9.4" font-weight="bold" text-anchor="middle" fill="#000">Vehicle</text>
<text x="379.6" y="731" font-size="9.4" font-weight="bold" text-anchor="middle" fill="#000">AZD6738</text>
<line x1="234.9" y1="737.7" x2="303" y2="737.7" stroke="#000" stroke-width="1.4"/>
<line x1="326.5" y1="737.7" x2="394.6" y2="737.7" stroke="#000" stroke-width="1.4"/>
<text x="269.8" y="748.5" font-size="9.4" font-weight="bold" text-anchor="middle"><tspan font-style="italic">TP53</tspan>-defective</text>
<text x="356.5" y="748.5" font-size="9.4" font-weight="bold" text-anchor="middle"><tspan font-style="italic">ATM</tspan>-defective</text>
<text transform="translate(411.7 560.3) scale(0.87 1)" font-size="13.2" font-weight="bold">H</text>
<line x1="443.5" y1="588.4" x2="443.5" y2="715" stroke="#000" stroke-width="1.4"/>
<line x1="443" y1="714.5" x2="519" y2="714.5" stroke="#000" stroke-width="1.4"/>
<line x1="441" y1="714.5" x2="443.5" y2="714.5" stroke="#000" stroke-width="1"/>
<text x="436" y="717.2" font-size="7.8" font-weight="bold" text-anchor="end" fill="#000">0</text>
<line x1="441" y1="689.28" x2="443.5" y2="689.28" stroke="#000" stroke-width="1"/>
<text x="436" y="691.98" font-size="7.8" font-weight="bold" text-anchor="end" fill="#000">20</text>
<line x1="441" y1="664.06" x2="443.5" y2="664.06" stroke="#000" stroke-width="1"/>
<text x="436" y="666.76" font-size="7.8" font-weight="bold" text-anchor="end" fill="#000">40</text>
<line x1="441" y1="638.84" x2="443.5" y2="638.84" stroke="#000" stroke-width="1"/>
<text x="436" y="641.54" font-size="7.8" font-weight="bold" text-anchor="end" fill="#000">60</text>
<line x1="441" y1="613.62" x2="443.5" y2="613.62" stroke="#000" stroke-width="1"/>
<text x="436" y="616.32" font-size="7.8" font-weight="bold" text-anchor="end" fill="#000">80</text>
<line x1="441" y1="588.4" x2="443.5" y2="588.4" stroke="#000" stroke-width="1"/>
<text x="436" y="591.1" font-size="7.8" font-weight="bold" text-anchor="end" fill="#000">100</text>
<line x1="481" y1="714.5" x2="481" y2="717" stroke="#000" stroke-width="1"/>
<line x1="519" y1="714.5" x2="519" y2="717" stroke="#000" stroke-width="1"/>
<rect x="454.2" y="588.4" width="15.6" height="126.1" fill="#000"/>
<line x1="500.15" y1="667.84" x2="500.15" y2="644.39" stroke="#000" stroke-width="0.8"/>
<line x1="498.35" y1="644.39" x2="501.95" y2="644.39" stroke="#000" stroke-width="0.8"/>
<rect x="492.6" y="667.84" width="15.1" height="46.66" fill="#000"/>
<polyline points="461.9,571.5 461.9,569 495.5,569 495.5,571.5" fill="none" stroke="#000" stroke-width="1"/>
<polygon points="478.4,563.35 479.09,564.9 480.78,565.08 479.52,566.21 479.87,567.87 478.4,567.02 476.93,567.87 477.28,566.21 476.02,565.08 477.71,564.9" fill="#000"/>
<text transform="translate(420.6 654.6) rotate(-90)" font-size="8.8" font-weight="bold" text-anchor="middle">del(11q) cells / total CLL cells (%)</text>
<text x="464.3" y="724.3" font-size="9.3" font-weight="bold" text-anchor="end" transform="rotate(-45 464.3 724.3)" fill="#000">Vehicle</text>
<text x="502.8" y="724.3" font-size="9.3" font-weight="bold" text-anchor="end" transform="rotate(-45 502.8 724.3)" fill="#000">AZD6738</text>
</svg></body></html>
